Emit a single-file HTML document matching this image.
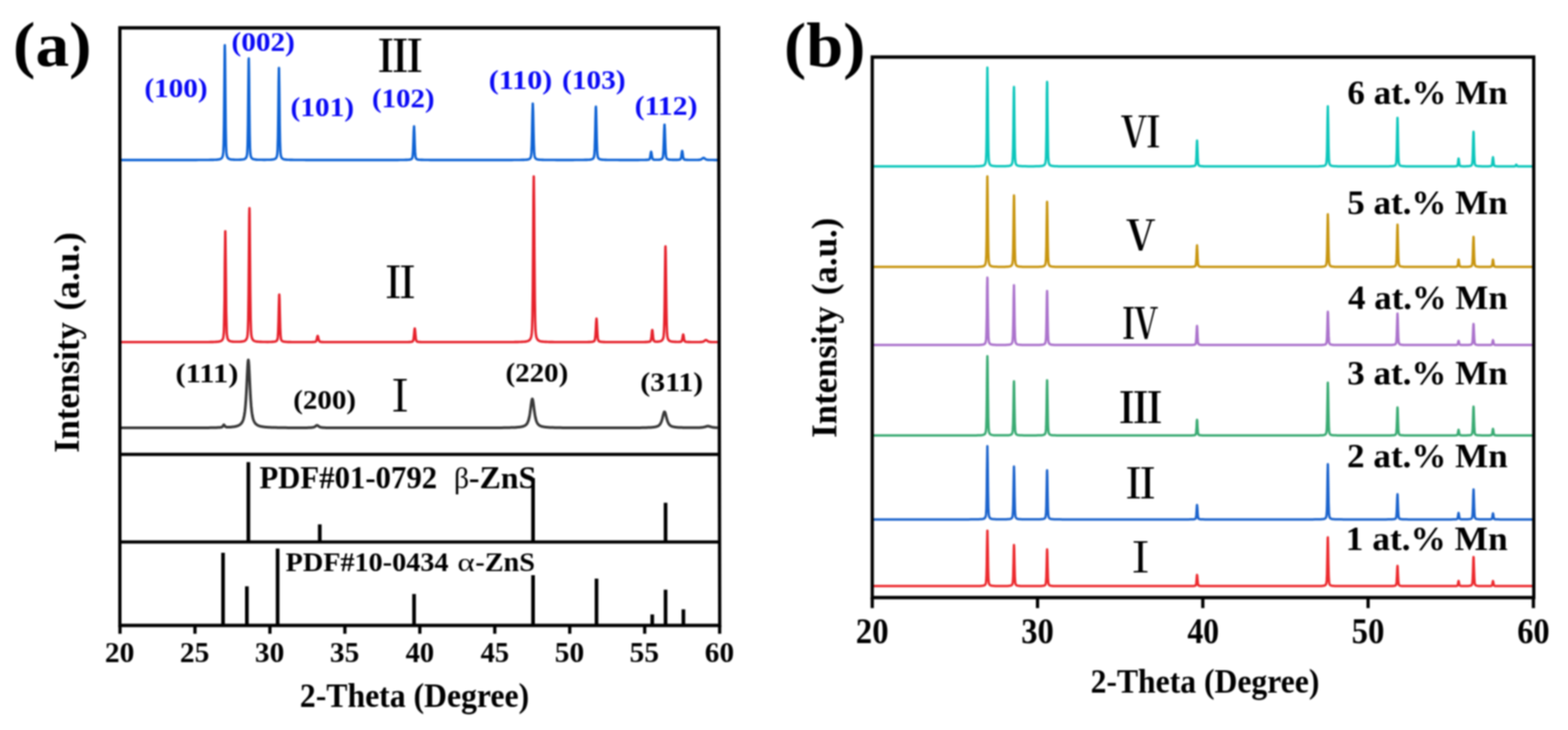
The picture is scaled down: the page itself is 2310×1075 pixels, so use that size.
<!DOCTYPE html>
<html><head><meta charset="utf-8"><title>XRD patterns</title>
<style>
html,body{margin:0;padding:0;background:#fff;}
body{width:2310px;height:1075px;overflow:hidden;}
svg{display:block;filter:blur(1px);}
</style></head>
<body>
<svg width="2310" height="1075" viewBox="0 0 2310 1075">
<rect x="0" y="0" width="2310" height="1075" fill="#fff"/>
<polyline fill="none" stroke="#0f63d4" stroke-width="3.6" stroke-linejoin="round" points="178.0,235.6 181.0,235.6 184.0,235.6 187.0,235.6 190.0,235.6 193.0,235.6 196.0,235.6 199.0,235.6 202.0,235.6 205.0,235.6 208.0,235.6 211.0,235.6 214.0,235.6 217.0,235.6 220.0,235.6 223.0,235.6 226.0,235.6 229.0,235.6 232.0,235.6 235.0,235.6 238.0,235.6 241.0,235.6 244.0,235.6 247.0,235.6 250.0,235.6 253.0,235.6 256.0,235.6 259.0,235.6 262.0,235.6 265.0,235.6 268.0,235.6 271.0,235.6 274.0,235.6 277.0,235.6 280.0,235.6 283.0,235.6 286.0,235.6 289.0,235.6 292.0,235.5 295.0,235.5 298.0,235.5 301.0,235.5 304.0,235.5 307.0,235.5 310.0,235.4 310.5,235.4 311.5,235.4 312.5,235.4 313.0,235.4 313.5,235.4 314.5,235.4 315.5,235.3 316.0,235.3 316.5,235.3 317.5,235.2 318.5,235.2 319.0,235.2 319.5,235.1 320.5,235.0 321.5,234.9 322.0,234.8 322.5,234.8 323.5,234.5 324.5,234.2 325.0,234.0 325.5,233.7 326.5,232.9 327.0,232.2 327.5,231.4 328.0,230.0 328.0,230.0 328.5,227.9 329.0,223.4 329.5,211.8 330.0,182.7 330.5,129.5 331.0,74.6 331.0,73.3 331.2,66.6 331.5,79.3 332.0,136.9 332.5,187.5 333.0,213.9 333.5,224.2 334.0,228.2 334.0,228.3 334.5,230.2 335.0,231.5 335.5,232.3 336.0,232.9 336.5,233.4 337.0,233.7 337.0,233.7 338.0,234.2 339.0,234.5 340.0,234.7 340.0,234.7 341.0,234.9 342.0,235.0 343.0,235.0 343.0,235.0 344.0,235.1 345.0,235.1 346.0,235.2 346.0,235.2 347.0,235.2 347.3,235.2 348.0,235.2 348.3,235.2 349.0,235.2 349.0,235.2 349.3,235.2 350.0,235.2 350.3,235.2 351.0,235.2 351.3,235.2 352.0,235.2 352.3,235.2 353.3,235.1 354.3,235.1 355.0,235.1 355.3,235.0 356.3,235.0 357.3,234.8 358.0,234.7 358.3,234.7 359.3,234.5 360.3,234.1 361.0,233.8 361.3,233.5 361.8,233.1 362.3,232.5 362.8,231.7 363.3,230.5 363.8,228.4 364.0,227.4 364.3,224.1 364.8,212.5 365.3,184.3 365.8,135.1 366.3,89.9 366.5,86.0 366.8,102.2 367.0,117.7 367.3,154.6 367.8,196.9 368.3,218.0 368.8,226.1 369.3,229.3 369.8,231.0 370.0,231.4 370.3,232.0 370.8,232.8 371.3,233.3 371.8,233.7 372.3,234.0 373.0,234.3 373.3,234.4 374.3,234.6 375.3,234.8 376.0,234.9 376.3,235.0 377.3,235.1 378.3,235.1 379.0,235.2 379.3,235.2 380.3,235.2 381.3,235.3 382.0,235.3 382.3,235.3 383.3,235.3 384.3,235.3 385.0,235.3 385.3,235.3 388.0,235.4 391.0,235.4 392.5,235.3 393.5,235.3 394.0,235.3 394.5,235.3 395.5,235.3 396.5,235.3 397.0,235.2 397.5,235.2 398.5,235.2 399.5,235.1 400.0,235.1 400.5,235.0 401.5,234.9 402.5,234.8 403.0,234.7 403.5,234.6 404.5,234.3 405.5,233.7 406.0,233.4 406.0,233.3 406.5,232.9 407.0,232.2 407.5,231.2 408.0,229.7 408.5,226.8 409.0,219.6 409.0,218.7 409.5,201.9 410.0,167.0 410.5,121.1 410.9,100.1 411.0,100.5 411.5,131.8 412.0,177.0 412.0,180.1 412.5,207.6 413.0,222.0 413.5,227.7 414.0,230.1 414.5,231.5 415.0,232.4 415.0,232.5 415.5,233.0 416.0,233.5 416.5,233.8 417.0,234.1 418.0,234.5 418.0,234.5 419.0,234.7 420.0,234.9 421.0,235.0 421.0,235.0 422.0,235.1 423.0,235.2 424.0,235.3 424.0,235.3 425.0,235.3 426.0,235.3 427.0,235.4 427.0,235.4 428.0,235.4 429.0,235.4 430.0,235.4 433.0,235.5 436.0,235.5 439.0,235.5 442.0,235.5 445.0,235.5 448.0,235.5 451.0,235.6 454.0,235.6 457.0,235.6 460.0,235.6 463.0,235.6 466.0,235.6 469.0,235.6 472.0,235.6 475.0,235.6 478.0,235.6 481.0,235.6 484.0,235.6 487.0,235.6 490.0,235.6 493.0,235.6 496.0,235.6 499.0,235.6 502.0,235.6 505.0,235.6 508.0,235.6 511.0,235.6 514.0,235.6 517.0,235.6 520.0,235.6 523.0,235.6 526.0,235.6 529.0,235.6 532.0,235.6 535.0,235.6 538.0,235.6 541.0,235.6 544.0,235.6 547.0,235.6 550.0,235.6 553.0,235.6 556.0,235.6 559.0,235.6 562.0,235.6 565.0,235.6 568.0,235.6 571.0,235.6 574.0,235.6 577.0,235.6 580.0,235.6 583.0,235.6 586.0,235.6 589.0,235.5 592.0,235.5 595.0,235.5 598.0,235.4 598.0,235.4 599.0,235.4 600.0,235.4 601.0,235.3 601.0,235.3 602.0,235.2 603.0,235.1 604.0,235.0 604.0,235.0 604.5,234.9 605.0,234.7 605.5,234.5 606.0,234.3 606.5,233.9 607.0,233.3 607.0,233.3 607.5,232.0 608.0,229.1 608.5,222.3 609.0,209.6 609.5,193.7 610.0,186.1 610.0,186.2 610.5,196.1 611.0,212.0 611.5,223.7 612.0,229.8 612.5,232.3 613.0,233.3 613.0,233.4 613.5,233.9 614.0,234.3 614.5,234.6 615.0,234.8 615.5,234.9 616.0,235.0 616.0,235.0 617.0,235.2 618.0,235.3 619.0,235.3 619.0,235.3 620.0,235.4 621.0,235.4 622.0,235.4 625.0,235.5 628.0,235.5 631.0,235.5 634.0,235.6 637.0,235.6 640.0,235.6 643.0,235.6 646.0,235.6 649.0,235.6 652.0,235.6 655.0,235.6 658.0,235.6 661.0,235.6 664.0,235.6 667.0,235.6 670.0,235.6 673.0,235.6 676.0,235.6 679.0,235.6 682.0,235.6 685.0,235.6 688.0,235.6 691.0,235.6 694.0,235.6 697.0,235.6 700.0,235.6 703.0,235.6 706.0,235.6 709.0,235.6 712.0,235.6 715.0,235.6 718.0,235.6 721.0,235.6 724.0,235.6 727.0,235.6 730.0,235.6 733.0,235.6 736.0,235.6 739.0,235.6 742.0,235.6 745.0,235.6 748.0,235.6 751.0,235.6 754.0,235.6 757.0,235.5 760.0,235.5 763.0,235.5 766.0,235.5 769.0,235.4 769.9,235.4 770.9,235.4 771.9,235.4 772.0,235.3 772.9,235.3 773.9,235.3 774.9,235.2 775.0,235.2 775.9,235.1 776.9,235.0 777.9,234.8 778.0,234.7 778.9,234.5 779.4,234.3 779.9,234.0 780.4,233.7 780.9,233.2 781.0,233.1 781.4,232.6 781.9,231.5 782.4,229.4 782.9,224.4 783.4,213.5 783.9,193.6 784.0,186.6 784.4,168.1 784.9,152.7 784.9,152.6 785.4,164.3 785.9,189.7 786.4,210.9 786.9,223.2 787.0,225.3 787.4,228.8 787.9,231.2 788.4,232.4 788.9,233.1 789.4,233.6 789.9,234.0 790.0,234.1 790.4,234.3 790.9,234.5 791.4,234.6 792.4,234.9 793.0,235.0 793.4,235.0 794.4,235.1 795.4,235.2 796.0,235.3 796.4,235.3 797.4,235.3 798.4,235.4 799.0,235.4 799.4,235.4 802.0,235.5 805.0,235.5 808.0,235.5 811.0,235.5 814.0,235.5 817.0,235.5 820.0,235.6 823.0,235.6 826.0,235.6 829.0,235.6 832.0,235.6 835.0,235.6 838.0,235.6 841.0,235.6 844.0,235.6 847.0,235.5 850.0,235.5 853.0,235.5 856.0,235.5 859.0,235.5 862.0,235.4 863.2,235.4 864.2,235.4 865.0,235.4 865.2,235.3 866.2,235.3 867.2,235.3 868.0,235.2 868.2,235.2 869.2,235.1 870.2,234.9 871.0,234.8 871.2,234.7 872.2,234.4 872.7,234.2 873.2,233.9 873.7,233.5 874.0,233.2 874.2,232.9 874.7,232.0 875.2,230.4 875.7,226.8 876.2,218.4 876.7,202.0 877.0,189.3 877.2,178.4 877.7,159.0 877.9,157.1 878.2,162.8 878.7,185.4 879.2,207.5 879.7,221.4 880.0,225.8 880.2,228.1 880.7,231.0 881.2,232.3 881.7,233.1 882.2,233.6 882.7,234.0 883.0,234.2 883.2,234.3 883.7,234.5 884.2,234.6 885.2,234.9 886.0,235.0 886.2,235.0 887.2,235.1 888.2,235.2 889.0,235.3 889.2,235.3 890.2,235.3 891.2,235.4 892.0,235.4 892.2,235.4 895.0,235.5 898.0,235.5 901.0,235.5 904.0,235.5 907.0,235.5 910.0,235.5 913.0,235.6 916.0,235.6 919.0,235.6 922.0,235.6 925.0,235.6 928.0,235.6 931.0,235.6 934.0,235.6 937.0,235.6 940.0,235.6 943.0,235.5 946.0,235.5 949.0,235.5 949.5,235.5 950.5,235.5 951.5,235.4 952.0,235.4 952.5,235.4 953.5,235.4 954.0,235.3 954.5,235.3 955.0,235.2 955.0,235.2 955.5,235.1 956.0,235.0 956.5,234.7 957.0,234.1 957.5,232.9 958.0,230.8 958.0,230.5 958.5,227.1 959.0,224.1 959.3,223.5 959.5,224.0 960.0,227.0 960.5,230.4 961.0,232.7 961.0,232.8 961.5,234.1 962.0,234.7 962.5,234.9 963.0,235.1 963.5,235.1 964.0,235.2 964.0,235.2 964.5,235.2 965.0,235.3 965.5,235.3 966.0,235.3 966.4,235.3 967.0,235.3 967.0,235.3 967.4,235.3 968.0,235.3 968.4,235.3 969.0,235.3 969.4,235.2 970.0,235.2 970.4,235.2 971.4,235.1 972.4,235.0 973.0,234.9 973.4,234.7 973.9,234.6 974.4,234.4 974.9,234.1 975.4,233.7 975.9,233.0 976.0,232.9 976.4,231.7 976.9,228.8 977.4,222.1 977.9,209.9 978.4,193.9 978.9,183.7 979.0,183.6 979.4,190.4 979.9,206.2 980.4,219.7 980.9,227.6 981.4,231.2 981.9,232.8 982.0,232.9 982.4,233.6 982.9,234.0 983.4,234.3 983.9,234.6 984.4,234.7 984.9,234.9 985.0,234.9 985.4,235.0 986.4,235.1 987.4,235.2 988.0,235.2 988.4,235.3 989.4,235.3 990.4,235.4 991.0,235.4 991.4,235.4 994.0,235.4 995.1,235.4 996.1,235.4 997.0,235.4 997.1,235.4 998.1,235.4 999.1,235.3 999.6,235.3 1000.0,235.3 1000.1,235.2 1000.6,235.2 1001.1,235.1 1001.6,234.9 1002.1,234.7 1002.6,234.2 1003.0,233.4 1003.1,233.0 1003.6,230.6 1004.1,227.1 1004.6,223.4 1005.0,222.3 1005.1,222.4 1005.6,225.3 1006.0,228.2 1006.1,229.2 1006.6,232.1 1007.1,233.8 1007.6,234.5 1008.1,234.9 1008.6,235.0 1009.0,235.1 1009.1,235.2 1009.6,235.2 1010.1,235.3 1010.6,235.3 1011.1,235.4 1011.6,235.4 1012.0,235.4 1012.6,235.4 1013.6,235.5 1014.6,235.5 1015.0,235.5 1016.1,235.5 1017.1,235.5 1018.0,235.5 1018.1,235.5 1019.1,235.5 1020.1,235.5 1021.0,235.5 1021.1,235.5 1022.1,235.5 1022.6,235.5 1023.1,235.5 1023.6,235.5 1024.0,235.5 1024.2,235.5 1024.7,235.5 1025.2,235.5 1025.7,235.5 1026.2,235.5 1026.7,235.5 1027.0,235.5 1027.2,235.5 1027.7,235.5 1028.2,235.5 1028.7,235.4 1029.2,235.4 1029.7,235.4 1030.0,235.4 1030.2,235.4 1030.7,235.3 1031.2,235.2 1031.7,235.1 1032.2,235.0 1032.7,234.8 1033.0,234.6 1033.2,234.5 1033.7,234.2 1034.2,233.8 1034.7,233.4 1035.2,233.0 1035.7,232.7 1036.0,232.5 1036.2,232.5 1036.4,232.5 1036.7,232.5 1037.2,232.7 1037.7,233.0 1038.2,233.4 1038.7,233.8 1039.0,234.1 1039.2,234.2 1039.7,234.5 1040.2,234.8 1040.7,235.0 1041.2,235.1 1041.7,235.2 1042.0,235.3 1042.2,235.3 1042.7,235.4 1043.2,235.4 1043.7,235.4 1044.2,235.5 1044.7,235.5 1045.0,235.5 1045.2,235.5 1045.7,235.5 1046.2,235.5 1046.7,235.5 1047.2,235.5 1047.7,235.5 1048.0,235.5 1048.2,235.5 1048.7,235.5 1049.2,235.5 1049.7,235.5 1050.2,235.5 1050.7,235.5 1051.0,235.5 1051.2,235.5 1051.7,235.6 1052.7,235.6 1053.7,235.6 1054.0,235.6 1054.7,235.6 1055.7,235.6 1057.0,235.6 1057.5,235.6"/>
<polyline fill="none" stroke="#e6222c" stroke-width="3.6" stroke-linejoin="round" points="178.0,503.8 181.0,503.8 184.0,503.8 187.0,503.8 190.0,503.8 193.0,503.8 196.0,503.8 199.0,503.8 202.0,503.8 205.0,503.8 208.0,503.8 211.0,503.8 214.0,503.8 217.0,503.8 220.0,503.8 223.0,503.8 226.0,503.8 229.0,503.8 232.0,503.8 235.0,503.8 238.0,503.8 241.0,503.8 244.0,503.8 247.0,503.8 250.0,503.8 253.0,503.8 256.0,503.8 259.0,503.8 262.0,503.8 265.0,503.8 268.0,503.8 271.0,503.8 274.0,503.8 277.0,503.8 280.0,503.8 283.0,503.8 286.0,503.8 289.0,503.7 292.0,503.7 295.0,503.7 298.0,503.7 301.0,503.7 304.0,503.7 307.0,503.7 310.0,503.6 311.2,503.6 312.2,503.6 313.0,503.6 313.2,503.6 314.2,503.6 315.2,503.5 316.0,503.5 316.2,503.5 317.2,503.5 318.2,503.4 319.0,503.4 319.2,503.3 320.2,503.3 321.2,503.2 322.0,503.1 322.2,503.0 323.2,502.9 324.2,502.6 325.0,502.4 325.2,502.3 326.2,501.7 326.8,501.3 327.2,500.8 327.8,500.1 328.0,499.6 328.2,499.1 328.8,497.6 329.2,495.0 329.8,489.2 330.2,474.4 330.8,441.5 331.0,416.9 331.2,388.9 331.8,344.0 331.9,340.6 332.2,357.5 332.8,411.5 333.2,457.3 333.8,481.9 334.0,488.2 334.2,492.1 334.8,496.2 335.2,498.2 335.8,499.5 336.2,500.4 336.8,501.0 337.0,501.2 337.2,501.5 337.8,501.8 338.8,502.3 339.8,502.6 340.0,502.7 340.8,502.8 341.8,503.0 342.8,503.1 343.0,503.1 343.7,503.2 343.8,503.2 344.7,503.2 344.8,503.2 345.7,503.3 345.8,503.3 346.0,503.3 346.7,503.3 346.8,503.3 347.7,503.3 347.8,503.3 348.7,503.3 348.8,503.3 349.0,503.3 349.7,503.3 349.8,503.3 350.7,503.3 350.8,503.3 351.7,503.3 351.8,503.3 352.0,503.3 352.7,503.2 353.7,503.2 354.7,503.1 355.0,503.1 355.7,503.0 356.7,502.9 357.7,502.8 358.0,502.7 358.7,502.6 359.7,502.3 360.7,501.8 361.0,501.7 361.7,501.1 362.2,500.6 362.7,500.0 363.2,499.1 363.7,497.9 364.0,497.0 364.2,496.1 364.7,493.0 365.2,486.3 365.7,469.9 366.2,434.3 366.7,376.2 367.0,341.6 367.2,318.0 367.5,306.6 367.7,315.0 368.2,371.0 368.7,430.5 369.2,467.9 369.7,485.4 370.0,490.1 370.2,492.6 370.7,495.9 371.2,497.8 371.7,499.0 372.2,499.9 372.7,500.6 373.0,500.9 373.2,501.1 373.7,501.5 374.7,502.1 375.7,502.4 376.0,502.5 376.7,502.7 377.7,502.9 378.7,503.0 379.0,503.1 379.7,503.1 380.7,503.2 381.7,503.3 382.0,503.3 382.7,503.4 383.7,503.4 384.7,503.4 385.0,503.4 385.7,503.5 386.7,503.5 387.7,503.5 388.0,503.5 388.7,503.5 389.7,503.5 390.7,503.5 391.0,503.5 394.0,503.6 397.0,503.5 397.8,503.5 398.8,503.5 399.8,503.5 400.0,503.5 400.8,503.4 401.8,503.4 402.8,503.3 403.0,503.3 403.8,503.2 404.8,503.0 405.8,502.8 406.0,502.7 406.3,502.6 406.8,502.3 407.3,502.0 407.8,501.5 408.3,500.7 408.8,499.4 409.0,498.4 409.3,496.2 409.8,488.6 410.3,473.2 410.8,451.0 411.3,434.4 411.4,433.7 411.8,441.7 412.0,450.5 412.3,463.9 412.8,482.9 413.3,493.6 413.8,498.3 414.3,500.3 414.8,501.2 415.0,501.5 415.3,501.8 415.8,502.2 416.3,502.5 416.8,502.7 417.3,502.9 417.8,503.0 418.0,503.0 418.8,503.2 419.8,503.3 420.8,503.4 421.0,503.4 421.8,503.5 422.8,503.5 423.8,503.6 424.0,503.6 424.8,503.6 427.0,503.6 430.0,503.7 433.0,503.7 436.0,503.7 439.0,503.7 442.0,503.7 445.0,503.7 448.0,503.7 451.0,503.7 454.0,503.7 456.9,503.7 457.0,503.7 457.9,503.7 458.9,503.7 459.9,503.7 460.0,503.7 460.9,503.6 461.4,503.6 461.9,503.6 462.4,503.6 462.9,503.5 463.0,503.5 463.4,503.5 463.9,503.4 464.4,503.3 464.9,503.1 465.4,502.7 465.9,501.9 466.0,501.6 466.4,500.5 466.9,498.5 467.4,496.2 467.9,494.8 468.0,494.7 468.4,495.3 468.9,497.3 469.0,497.9 469.4,499.5 469.9,501.3 470.4,502.3 470.9,502.9 471.4,503.2 471.9,503.4 472.0,503.4 472.4,503.4 472.9,503.5 473.4,503.6 473.9,503.6 474.4,503.6 474.9,503.6 475.0,503.6 475.4,503.7 475.9,503.7 476.9,503.7 477.9,503.7 478.0,503.7 478.9,503.7 481.0,503.7 484.0,503.8 487.0,503.8 490.0,503.8 493.0,503.8 496.0,503.8 499.0,503.8 502.0,503.8 505.0,503.8 508.0,503.8 511.0,503.8 514.0,503.8 517.0,503.8 520.0,503.8 523.0,503.8 526.0,503.8 529.0,503.8 532.0,503.8 535.0,503.8 538.0,503.8 541.0,503.8 544.0,503.8 547.0,503.8 550.0,503.8 553.0,503.8 556.0,503.8 559.0,503.8 562.0,503.8 565.0,503.8 568.0,503.8 571.0,503.8 574.0,503.8 577.0,503.8 580.0,503.8 583.0,503.8 586.0,503.8 589.0,503.8 592.0,503.8 595.0,503.7 598.0,503.7 600.6,503.7 601.0,503.7 601.6,503.7 602.6,503.6 603.6,503.6 604.0,503.6 604.6,503.5 605.1,503.5 605.6,503.4 606.1,503.4 606.6,503.3 607.0,503.2 607.1,503.1 607.6,502.9 608.1,502.6 608.6,501.8 609.1,500.2 609.6,496.8 610.0,492.6 610.1,491.6 610.6,485.8 611.0,483.7 611.1,483.8 611.6,487.7 612.1,493.6 612.6,498.3 613.0,500.6 613.1,500.9 613.6,502.2 614.1,502.7 614.6,503.0 615.1,503.2 615.6,503.3 616.0,503.4 616.1,503.4 616.6,503.5 617.1,503.5 617.6,503.5 618.1,503.6 619.0,503.6 619.1,503.6 620.1,503.7 621.1,503.7 622.0,503.7 625.0,503.7 628.0,503.8 631.0,503.8 634.0,503.8 637.0,503.8 640.0,503.8 643.0,503.8 646.0,503.8 649.0,503.8 652.0,503.8 655.0,503.8 658.0,503.8 661.0,503.8 664.0,503.8 667.0,503.8 670.0,503.8 673.0,503.8 676.0,503.8 679.0,503.8 682.0,503.8 685.0,503.8 688.0,503.8 691.0,503.8 694.0,503.8 697.0,503.8 700.0,503.8 703.0,503.8 706.0,503.8 709.0,503.8 712.0,503.8 715.0,503.8 718.0,503.8 721.0,503.8 724.0,503.8 727.0,503.8 730.0,503.8 733.0,503.8 736.0,503.7 739.0,503.7 742.0,503.7 745.0,503.7 748.0,503.7 751.0,503.7 754.0,503.7 757.0,503.7 758.4,503.6 759.4,503.6 760.0,503.6 760.4,503.6 761.4,503.6 762.4,503.6 763.0,503.6 763.4,503.6 764.4,503.5 765.4,503.5 766.0,503.5 766.4,503.5 767.4,503.5 768.4,503.4 769.0,503.4 769.4,503.4 770.4,503.3 771.4,503.3 772.0,503.2 772.4,503.2 773.4,503.1 774.4,503.0 775.0,502.9 775.4,502.8 776.4,502.6 777.4,502.3 778.0,502.1 778.4,501.9 779.4,501.3 780.4,500.5 780.9,499.8 781.0,499.6 781.4,499.0 781.9,498.0 782.4,496.5 782.9,494.3 783.4,490.7 783.9,483.2 784.0,480.0 784.4,465.8 784.9,428.2 785.4,364.3 785.9,290.2 786.3,259.7 786.4,260.6 786.9,309.5 787.0,329.1 787.4,384.6 787.9,441.3 788.4,472.2 788.9,486.0 789.4,491.9 789.9,495.0 790.0,495.6 790.4,496.9 790.9,498.3 791.4,499.3 791.9,500.0 792.4,500.6 792.9,501.1 793.0,501.2 793.9,501.7 794.9,502.2 795.9,502.5 796.0,502.5 796.9,502.7 797.9,502.9 798.9,503.0 799.0,503.0 799.9,503.1 800.9,503.2 801.9,503.3 802.0,503.3 802.9,503.4 803.9,503.4 804.9,503.4 805.0,503.4 805.9,503.5 806.9,503.5 807.9,503.5 808.0,503.5 808.9,503.6 809.9,503.6 810.9,503.6 811.0,503.6 811.9,503.6 812.9,503.6 813.9,503.6 814.0,503.6 817.0,503.7 820.0,503.7 823.0,503.7 826.0,503.7 829.0,503.7 832.0,503.7 835.0,503.7 838.0,503.7 841.0,503.7 844.0,503.7 847.0,503.7 850.0,503.7 853.0,503.7 856.0,503.7 859.0,503.7 862.0,503.7 865.0,503.7 867.2,503.6 868.0,503.6 868.2,503.6 869.2,503.6 870.2,503.5 871.0,503.5 871.2,503.5 872.2,503.4 872.7,503.3 873.2,503.2 873.7,503.1 874.0,503.0 874.2,502.9 874.7,502.7 875.2,502.4 875.7,501.9 876.2,500.9 876.7,498.7 877.0,496.6 877.2,494.0 877.7,485.9 878.2,475.7 878.7,469.3 878.8,469.2 879.2,473.2 879.7,483.1 880.0,488.3 880.2,492.1 880.7,497.7 881.2,500.5 881.7,501.7 882.2,502.3 882.7,502.6 883.0,502.8 883.2,502.9 883.7,503.0 884.2,503.2 884.7,503.3 885.2,503.3 885.7,503.4 886.0,503.4 886.7,503.5 887.7,503.5 888.7,503.6 889.0,503.6 889.7,503.6 892.0,503.7 895.0,503.7 898.0,503.7 901.0,503.7 904.0,503.7 907.0,503.7 910.0,503.8 913.0,503.8 916.0,503.8 919.0,503.8 922.0,503.8 925.0,503.8 928.0,503.7 931.0,503.7 934.0,503.7 937.0,503.7 940.0,503.7 943.0,503.7 946.0,503.7 949.0,503.7 950.7,503.6 951.7,503.6 952.0,503.6 952.7,503.6 953.7,503.5 954.7,503.4 955.0,503.4 955.2,503.4 955.7,503.3 956.2,503.3 956.7,503.2 957.2,503.0 957.7,502.8 958.0,502.6 958.2,502.4 958.7,501.5 959.2,499.5 959.7,495.9 960.2,490.8 960.7,486.5 960.7,486.5 960.9,486.0 961.0,486.1 961.2,487.0 961.7,491.6 961.7,491.8 962.2,496.5 962.7,499.9 962.7,500.0 963.2,501.6 963.7,502.4 963.7,502.4 964.0,502.6 964.2,502.7 964.7,502.9 964.7,502.9 965.2,503.0 965.7,503.1 965.7,503.1 966.2,503.1 966.7,503.1 966.7,503.1 967.0,503.2 967.2,503.2 967.7,503.2 967.7,503.2 968.7,503.1 968.7,503.1 969.7,503.1 969.7,503.1 970.0,503.0 970.7,503.0 970.7,503.0 971.7,502.8 972.7,502.6 973.0,502.5 973.7,502.2 974.7,501.6 975.2,501.2 975.7,500.7 976.0,500.3 976.2,500.0 976.7,499.0 977.2,497.4 977.7,494.5 978.2,488.1 978.7,473.2 979.0,458.3 979.2,444.1 979.7,401.9 980.2,366.4 980.4,362.7 980.7,372.3 981.2,412.6 981.7,452.5 982.0,469.1 982.2,477.9 982.7,490.2 983.2,495.4 983.7,497.9 984.2,499.3 984.7,500.2 985.0,500.6 985.2,500.9 985.7,501.4 986.2,501.8 986.7,502.1 987.7,502.5 988.0,502.6 988.7,502.8 989.7,503.0 990.7,503.1 991.0,503.1 991.7,503.2 992.7,503.3 993.7,503.4 994.0,503.4 994.7,503.4 995.7,503.4 996.7,503.5 996.8,503.5 997.0,503.5 997.7,503.5 997.8,503.5 998.7,503.5 998.8,503.5 999.7,503.5 999.8,503.5 1000.0,503.5 1000.8,503.4 1001.3,503.4 1001.8,503.4 1002.3,503.3 1002.8,503.2 1003.0,503.2 1003.3,503.1 1003.8,502.8 1004.3,502.3 1004.8,501.0 1005.3,498.7 1005.8,495.5 1006.0,494.3 1006.3,492.9 1006.5,492.6 1006.8,493.3 1007.3,496.3 1007.8,499.3 1008.3,501.4 1008.8,502.5 1009.0,502.7 1009.3,503.0 1009.8,503.2 1010.3,503.3 1010.8,503.4 1011.3,503.5 1011.8,503.5 1012.0,503.5 1012.3,503.5 1012.8,503.6 1013.3,503.6 1014.3,503.6 1015.0,503.6 1015.3,503.6 1018.0,503.7 1019.8,503.7 1020.8,503.7 1021.0,503.7 1021.8,503.7 1022.8,503.7 1023.8,503.7 1024.0,503.7 1024.8,503.7 1025.8,503.7 1026.2,503.7 1026.8,503.7 1027.0,503.7 1027.2,503.7 1027.8,503.7 1028.2,503.7 1028.8,503.7 1029.2,503.7 1029.8,503.7 1030.0,503.7 1030.2,503.7 1030.8,503.7 1031.2,503.7 1031.8,503.6 1032.2,503.6 1032.8,503.6 1033.0,503.6 1033.2,503.6 1033.8,503.5 1034.2,503.5 1034.8,503.4 1035.2,503.3 1035.8,503.2 1036.0,503.1 1036.2,503.0 1036.8,502.7 1037.2,502.4 1037.8,502.0 1038.2,501.6 1038.8,501.2 1039.0,501.1 1039.2,500.9 1039.8,500.7 1040.0,500.7 1040.2,500.7 1040.8,500.9 1041.2,501.2 1041.8,501.6 1042.0,501.8 1042.2,502.0 1042.8,502.4 1043.2,502.7 1043.8,503.0 1044.2,503.2 1044.8,503.3 1045.0,503.4 1045.2,503.4 1045.8,503.5 1046.2,503.6 1046.8,503.6 1047.2,503.6 1047.8,503.6 1048.0,503.7 1048.2,503.7 1048.8,503.7 1049.2,503.7 1049.8,503.7 1050.2,503.7 1050.8,503.7 1051.0,503.7 1051.2,503.7 1051.8,503.7 1052.2,503.7 1052.8,503.7 1053.2,503.7 1053.8,503.7 1054.0,503.7 1054.2,503.7 1054.8,503.7 1055.2,503.7 1056.2,503.7 1057.0,503.8 1057.2,503.8 1057.5,503.8"/>
<polyline fill="none" stroke="#383838" stroke-width="4.0" stroke-linejoin="round" points="178.0,630.1 181.0,630.1 184.0,630.1 187.0,630.1 190.0,630.1 193.0,630.1 196.0,630.1 199.0,630.1 202.0,630.1 205.0,630.1 208.0,630.1 211.0,630.1 214.0,630.1 217.0,630.1 220.0,630.1 223.0,630.1 226.0,630.1 229.0,630.1 232.0,630.1 235.0,630.1 238.0,630.0 241.0,630.0 244.0,630.0 247.0,630.0 250.0,630.0 253.0,630.0 256.0,630.0 259.0,630.0 262.0,630.0 265.0,630.0 268.0,630.0 271.0,630.0 274.0,630.0 277.0,630.0 280.0,630.0 283.0,630.0 286.0,630.0 289.0,630.0 292.0,630.0 295.0,629.9 298.0,629.9 301.0,629.9 304.0,629.9 307.0,629.9 310.0,629.8 313.0,629.8 316.0,629.7 317.5,629.7 318.5,629.7 319.0,629.7 319.5,629.7 320.5,629.6 321.5,629.6 322.0,629.6 322.0,629.6 322.5,629.6 323.0,629.5 323.5,629.5 324.0,629.4 324.5,629.4 325.0,629.3 325.0,629.3 325.5,629.3 326.0,629.2 326.5,629.0 327.0,628.8 327.5,628.5 328.0,628.0 328.0,627.9 328.5,627.3 329.0,626.4 329.5,625.7 329.8,625.5 330.0,625.6 330.5,626.1 331.0,627.0 331.0,627.0 331.5,627.7 332.0,628.2 332.5,628.5 333.0,628.7 333.5,628.9 333.8,628.9 334.0,629.0 334.0,629.0 334.5,629.0 334.8,629.0 335.0,629.0 335.5,629.0 335.8,629.1 336.0,629.1 336.5,629.0 336.8,629.0 337.0,629.0 337.0,629.0 337.5,629.0 337.8,629.0 338.0,629.0 338.5,629.0 338.8,629.0 339.0,629.0 339.8,628.9 340.0,628.9 340.0,628.9 340.8,628.8 341.0,628.8 341.8,628.7 342.0,628.7 342.8,628.6 343.0,628.6 343.8,628.5 344.8,628.4 345.8,628.2 346.0,628.2 346.8,628.0 347.8,627.8 348.8,627.5 349.0,627.4 349.3,627.4 349.8,627.2 350.3,627.0 350.8,626.8 351.3,626.6 351.8,626.3 352.0,626.2 352.3,626.1 352.8,625.8 353.3,625.5 353.8,625.1 354.3,624.7 354.8,624.2 355.0,624.0 355.3,623.7 355.8,623.1 356.3,622.4 356.8,621.6 357.3,620.6 357.8,619.5 358.0,619.0 358.3,618.2 358.8,616.6 359.3,614.6 359.8,612.2 360.3,609.2 360.8,605.5 361.0,603.6 361.3,600.9 361.8,595.3 362.3,588.5 362.8,580.3 363.3,570.9 363.8,560.5 364.0,555.8 364.3,549.7 364.8,539.9 365.3,532.7 365.8,529.9 365.8,529.9 366.3,532.3 366.8,539.2 367.0,543.2 367.3,548.9 367.8,559.6 368.3,570.1 368.8,579.6 369.3,587.9 369.8,594.8 370.0,597.5 370.3,600.5 370.8,605.2 371.3,609.0 371.8,612.0 372.3,614.5 372.8,616.5 373.0,617.2 373.3,618.1 373.8,619.4 374.3,620.6 374.8,621.5 375.3,622.3 375.8,623.0 376.0,623.3 376.3,623.6 376.8,624.2 377.3,624.6 377.8,625.1 378.3,625.4 378.8,625.8 379.0,625.9 379.3,626.1 379.8,626.3 380.3,626.6 380.8,626.8 381.3,627.0 381.8,627.2 382.0,627.3 382.3,627.4 382.8,627.5 383.3,627.7 383.8,627.8 384.3,627.9 385.0,628.1 385.3,628.1 386.3,628.3 387.3,628.5 388.0,628.6 388.3,628.6 389.3,628.7 390.3,628.8 391.0,628.9 391.3,628.9 392.3,629.0 393.3,629.1 394.0,629.1 394.3,629.2 395.3,629.2 396.3,629.3 397.0,629.3 397.3,629.3 400.0,629.4 403.0,629.5 406.0,629.6 409.0,629.7 412.0,629.7 415.0,629.8 418.0,629.8 421.0,629.8 424.0,629.9 427.0,629.9 430.0,629.9 433.0,629.9 436.0,629.9 439.0,629.9 442.0,629.9 442.8,629.9 443.8,629.9 444.8,629.9 445.0,629.9 445.8,629.9 446.8,629.9 447.8,629.9 448.0,629.9 448.8,629.9 449.8,629.9 450.3,629.9 450.8,629.9 451.0,629.9 451.3,629.9 451.8,629.9 452.3,629.9 452.8,629.9 453.3,629.9 453.8,629.8 454.0,629.8 454.3,629.8 454.8,629.8 455.3,629.8 455.8,629.8 456.3,629.8 456.8,629.8 457.0,629.7 457.3,629.7 457.8,629.7 458.3,629.7 458.8,629.6 459.3,629.6 459.8,629.5 460.0,629.5 460.3,629.5 460.8,629.4 461.3,629.3 461.8,629.2 462.3,629.0 462.8,628.8 463.0,628.8 463.3,628.6 463.8,628.4 464.3,628.0 464.8,627.7 465.3,627.3 465.8,626.9 466.0,626.7 466.3,626.6 466.8,626.4 467.1,626.3 467.3,626.3 467.8,626.5 468.3,626.8 468.8,627.2 469.0,627.4 469.3,627.6 469.8,628.0 470.3,628.3 470.8,628.6 471.3,628.8 471.8,629.0 472.0,629.1 472.3,629.2 472.8,629.3 473.3,629.4 473.8,629.5 474.3,629.6 474.8,629.6 475.0,629.6 475.3,629.7 475.8,629.7 476.3,629.7 476.8,629.8 477.3,629.8 477.8,629.8 478.0,629.8 478.3,629.8 478.8,629.8 479.3,629.9 479.8,629.9 480.3,629.9 480.8,629.9 481.0,629.9 481.3,629.9 481.8,629.9 482.3,629.9 482.8,629.9 483.3,629.9 483.8,629.9 484.0,629.9 484.3,629.9 484.8,630.0 485.3,630.0 486.3,630.0 487.0,630.0 487.3,630.0 488.3,630.0 489.3,630.0 490.0,630.0 490.3,630.0 491.3,630.0 493.0,630.0 496.0,630.0 499.0,630.0 502.0,630.0 505.0,630.0 508.0,630.0 511.0,630.0 514.0,630.0 517.0,630.0 520.0,630.0 523.0,630.1 526.0,630.1 529.0,630.1 532.0,630.1 535.0,630.1 538.0,630.1 541.0,630.1 544.0,630.1 547.0,630.1 550.0,630.1 553.0,630.1 556.0,630.1 559.0,630.1 562.0,630.1 565.0,630.1 568.0,630.1 571.0,630.1 574.0,630.1 577.0,630.1 580.0,630.1 583.0,630.1 586.0,630.1 589.0,630.1 592.0,630.1 595.0,630.1 598.0,630.1 601.0,630.1 604.0,630.1 607.0,630.1 610.0,630.1 613.0,630.1 616.0,630.1 619.0,630.1 622.0,630.1 625.0,630.1 628.0,630.1 631.0,630.1 634.0,630.1 637.0,630.1 640.0,630.1 643.0,630.1 646.0,630.1 649.0,630.1 652.0,630.1 655.0,630.1 658.0,630.1 661.0,630.1 664.0,630.1 667.0,630.1 670.0,630.1 673.0,630.1 676.0,630.0 679.0,630.0 682.0,630.0 685.0,630.0 688.0,630.0 691.0,630.0 694.0,630.0 697.0,630.0 700.0,630.0 703.0,630.0 706.0,630.0 709.0,630.0 712.0,630.0 715.0,630.0 718.0,630.0 721.0,630.0 724.0,630.0 727.0,630.0 730.0,629.9 733.0,629.9 736.0,629.9 739.0,629.9 742.0,629.8 745.0,629.8 748.0,629.8 751.0,629.7 752.8,629.6 753.8,629.6 754.0,629.6 754.8,629.6 755.8,629.5 756.8,629.5 757.0,629.5 757.8,629.5 758.8,629.4 759.8,629.4 760.0,629.3 760.8,629.3 761.8,629.2 762.8,629.1 763.0,629.1 763.8,629.1 764.3,629.0 764.8,628.9 765.3,628.9 765.8,628.8 766.0,628.8 766.3,628.8 766.8,628.7 767.3,628.6 767.8,628.5 768.3,628.4 768.8,628.3 769.0,628.3 769.3,628.2 769.8,628.1 770.3,627.9 770.8,627.8 771.3,627.6 771.8,627.4 772.0,627.3 772.3,627.2 772.8,627.0 773.3,626.7 773.8,626.4 774.3,626.0 774.8,625.6 775.0,625.4 775.3,625.2 775.8,624.6 776.3,624.0 776.8,623.2 777.3,622.3 777.8,621.1 778.0,620.6 778.3,619.8 778.8,618.2 779.3,616.3 779.8,614.0 780.3,611.3 780.8,608.2 781.0,606.7 781.3,604.7 781.8,600.9 782.3,597.0 782.8,593.2 783.3,590.0 783.8,588.0 784.0,587.5 784.2,587.4 784.3,587.4 784.8,588.5 785.3,591.0 785.8,594.4 786.3,598.3 786.8,602.2 787.0,603.8 787.3,605.9 787.8,609.2 788.3,612.2 788.8,614.8 789.3,616.9 789.8,618.7 790.0,619.4 790.3,620.3 790.8,621.5 791.3,622.6 791.8,623.5 792.3,624.2 792.8,624.8 793.0,625.0 793.3,625.3 793.8,625.8 794.3,626.2 794.8,626.5 795.3,626.8 795.8,627.0 796.0,627.1 796.3,627.3 796.8,627.5 797.3,627.7 797.8,627.8 798.3,628.0 798.8,628.1 799.0,628.2 799.3,628.2 799.8,628.3 800.3,628.4 800.8,628.5 801.3,628.6 801.8,628.7 802.0,628.7 802.3,628.8 802.8,628.8 803.3,628.9 803.8,629.0 804.3,629.0 804.8,629.1 805.0,629.1 805.3,629.1 806.3,629.2 807.3,629.3 808.0,629.3 808.3,629.3 809.3,629.4 810.3,629.4 811.0,629.5 811.3,629.5 812.3,629.5 813.3,629.6 814.0,629.6 814.3,629.6 815.3,629.6 817.0,629.7 820.0,629.7 823.0,629.8 826.0,629.8 829.0,629.9 832.0,629.9 835.0,629.9 838.0,629.9 841.0,629.9 844.0,630.0 847.0,630.0 850.0,630.0 853.0,630.0 856.0,630.0 859.0,630.0 862.0,630.0 865.0,630.0 868.0,630.0 871.0,630.0 874.0,630.0 877.0,630.0 880.0,630.0 883.0,630.0 886.0,630.0 889.0,630.0 892.0,630.0 895.0,630.0 898.0,630.0 901.0,630.0 904.0,630.0 907.0,630.0 910.0,630.0 913.0,630.0 916.0,630.0 919.0,630.0 922.0,630.0 925.0,630.0 928.0,630.0 931.0,630.0 934.0,629.9 937.0,629.9 940.0,629.9 943.0,629.9 946.0,629.8 947.1,629.8 948.1,629.8 949.0,629.8 949.1,629.8 950.1,629.7 951.1,629.7 952.0,629.7 952.1,629.7 953.1,629.7 954.1,629.6 955.0,629.6 955.1,629.6 956.1,629.5 957.1,629.5 957.6,629.5 958.0,629.5 958.1,629.4 958.6,629.4 959.1,629.4 959.6,629.4 960.1,629.3 960.6,629.3 961.0,629.2 961.1,629.2 961.6,629.2 962.1,629.1 962.6,629.1 963.1,629.0 963.6,628.9 964.0,628.9 964.1,628.9 964.6,628.8 965.1,628.7 965.6,628.6 966.1,628.5 966.6,628.4 967.0,628.3 967.1,628.3 967.6,628.1 968.1,627.9 968.6,627.7 969.1,627.5 969.6,627.3 970.0,627.0 970.1,627.0 970.6,626.6 971.1,626.2 971.6,625.7 972.1,625.1 972.6,624.5 973.0,623.8 973.1,623.6 973.6,622.7 974.1,621.5 974.6,620.2 975.1,618.7 975.6,617.0 976.0,615.5 976.1,615.1 976.6,613.1 977.1,611.1 977.6,609.2 978.1,607.6 978.6,606.6 979.0,606.4 979.1,606.4 979.6,606.9 980.1,608.2 980.6,609.9 981.1,611.9 981.6,613.9 982.0,615.5 982.1,615.9 982.6,617.7 983.1,619.3 983.6,620.8 984.1,622.0 984.6,623.1 985.0,623.8 985.1,624.0 985.6,624.7 986.1,625.4 986.6,625.9 987.1,626.4 987.6,626.8 988.0,627.0 988.1,627.1 988.6,627.4 989.1,627.6 989.6,627.8 990.1,628.0 990.6,628.2 991.0,628.3 991.1,628.3 991.6,628.4 992.1,628.5 992.6,628.6 993.1,628.7 993.6,628.8 994.0,628.9 994.1,628.9 994.6,629.0 995.1,629.0 995.6,629.1 996.1,629.1 996.6,629.2 997.0,629.2 997.1,629.2 997.6,629.3 998.1,629.3 998.6,629.4 999.1,629.4 999.6,629.4 1000.0,629.4 1000.1,629.4 1000.6,629.5 1001.1,629.5 1001.6,629.5 1002.6,629.6 1002.8,629.6 1003.0,629.6 1003.6,629.6 1003.8,629.6 1004.6,629.6 1004.8,629.6 1005.6,629.7 1005.8,629.7 1006.0,629.7 1006.6,629.7 1006.8,629.7 1007.6,629.7 1007.8,629.7 1008.6,629.7 1008.8,629.7 1009.0,629.7 1009.6,629.7 1009.8,629.7 1010.6,629.8 1010.8,629.8 1011.8,629.8 1012.0,629.8 1012.8,629.8 1013.8,629.8 1014.3,629.8 1014.8,629.8 1015.0,629.8 1015.3,629.8 1015.8,629.8 1016.3,629.8 1016.8,629.8 1017.3,629.8 1017.8,629.8 1018.0,629.8 1018.3,629.8 1018.8,629.8 1019.3,629.8 1019.8,629.8 1020.3,629.8 1020.8,629.8 1021.0,629.8 1021.3,629.8 1021.8,629.8 1022.3,629.8 1022.8,629.8 1023.3,629.8 1023.8,629.8 1024.0,629.8 1024.3,629.8 1024.8,629.8 1025.3,629.8 1025.8,629.8 1026.3,629.8 1026.8,629.8 1027.0,629.8 1027.3,629.8 1027.8,629.8 1028.3,629.8 1028.8,629.7 1029.3,629.7 1029.8,629.7 1030.0,629.7 1030.3,629.7 1030.8,629.7 1031.3,629.7 1031.8,629.6 1032.3,629.6 1032.8,629.6 1033.0,629.5 1033.3,629.5 1033.8,629.5 1034.3,629.4 1034.8,629.4 1035.3,629.3 1035.8,629.2 1036.0,629.2 1036.3,629.1 1036.8,629.0 1037.3,628.9 1037.8,628.8 1038.3,628.7 1038.8,628.5 1039.0,628.5 1039.3,628.4 1039.8,628.2 1040.3,628.1 1040.8,627.9 1041.3,627.8 1041.8,627.7 1042.0,627.6 1042.3,627.6 1042.8,627.5 1043.0,627.5 1043.3,627.5 1043.8,627.6 1044.3,627.7 1044.8,627.8 1045.0,627.9 1045.3,627.9 1045.8,628.1 1046.3,628.3 1046.8,628.4 1047.3,628.6 1047.8,628.7 1048.0,628.8 1048.3,628.9 1048.8,629.0 1049.3,629.1 1049.8,629.2 1050.3,629.3 1050.8,629.3 1051.0,629.4 1051.3,629.4 1051.8,629.5 1052.3,629.5 1052.8,629.6 1053.3,629.6 1053.8,629.7 1054.0,629.7 1054.3,629.7 1054.8,629.7 1055.3,629.7 1055.8,629.8 1056.3,629.8 1056.8,629.8 1057.0,629.8 1057.3,629.8 1057.5,629.8"/>
<line x1="365.90" y1="680.50" x2="365.90" y2="798.20" stroke="#000" stroke-width="5.4" stroke-linecap="butt"/>
<line x1="471.10" y1="772.20" x2="471.10" y2="798.20" stroke="#000" stroke-width="5.4" stroke-linecap="butt"/>
<line x1="785.30" y1="704.00" x2="785.30" y2="798.20" stroke="#000" stroke-width="5.4" stroke-linecap="butt"/>
<line x1="980.50" y1="740.40" x2="980.50" y2="798.20" stroke="#000" stroke-width="5.4" stroke-linecap="butt"/>
<line x1="328.60" y1="814.00" x2="328.60" y2="921.00" stroke="#000" stroke-width="5.4" stroke-linecap="butt"/>
<line x1="363.70" y1="863.40" x2="363.70" y2="921.00" stroke="#000" stroke-width="5.4" stroke-linecap="butt"/>
<line x1="409.00" y1="807.80" x2="409.00" y2="921.00" stroke="#000" stroke-width="5.4" stroke-linecap="butt"/>
<line x1="610.00" y1="874.70" x2="610.00" y2="921.00" stroke="#000" stroke-width="5.4" stroke-linecap="butt"/>
<line x1="785.30" y1="847.00" x2="785.30" y2="921.00" stroke="#000" stroke-width="5.4" stroke-linecap="butt"/>
<line x1="878.80" y1="852.10" x2="878.80" y2="921.00" stroke="#000" stroke-width="5.4" stroke-linecap="butt"/>
<line x1="960.90" y1="904.80" x2="960.90" y2="921.00" stroke="#000" stroke-width="5.4" stroke-linecap="butt"/>
<line x1="980.50" y1="868.40" x2="980.50" y2="921.00" stroke="#000" stroke-width="5.4" stroke-linecap="butt"/>
<line x1="1006.80" y1="897.30" x2="1006.80" y2="921.00" stroke="#000" stroke-width="5.4" stroke-linecap="butt"/>
<path d="M176.6,41.0 L1058.6,41.0 L1060.3,921.0 L176.6,921.0 Z" fill="none" stroke="#000" stroke-width="4.8"/>
<line x1="176.60" y1="669.20" x2="1059.40" y2="669.20" stroke="#000" stroke-width="4.8" stroke-linecap="butt"/>
<line x1="176.60" y1="798.20" x2="1059.90" y2="798.20" stroke="#000" stroke-width="4.8" stroke-linecap="butt"/>
<line x1="176.80" y1="921.00" x2="176.80" y2="933.30" stroke="#000" stroke-width="4.8" stroke-linecap="butt"/>
<line x1="287.23" y1="921.00" x2="287.23" y2="933.30" stroke="#000" stroke-width="4.8" stroke-linecap="butt"/>
<line x1="397.65" y1="921.00" x2="397.65" y2="933.30" stroke="#000" stroke-width="4.8" stroke-linecap="butt"/>
<line x1="508.08" y1="921.00" x2="508.08" y2="933.30" stroke="#000" stroke-width="4.8" stroke-linecap="butt"/>
<line x1="618.50" y1="921.00" x2="618.50" y2="933.30" stroke="#000" stroke-width="4.8" stroke-linecap="butt"/>
<line x1="728.92" y1="921.00" x2="728.92" y2="933.30" stroke="#000" stroke-width="4.8" stroke-linecap="butt"/>
<line x1="839.35" y1="921.00" x2="839.35" y2="933.30" stroke="#000" stroke-width="4.8" stroke-linecap="butt"/>
<line x1="949.78" y1="921.00" x2="949.78" y2="933.30" stroke="#000" stroke-width="4.8" stroke-linecap="butt"/>
<line x1="1060.20" y1="921.00" x2="1060.20" y2="933.30" stroke="#000" stroke-width="4.8" stroke-linecap="butt"/>
<text x="19.02" y="97.00" font-size="93.00" font-family="'Liberation Serif', 'Times New Roman', serif" font-weight="bold" fill="#000" textLength="115.95" lengthAdjust="spacingAndGlyphs">(a)</text>
<text x="212.81" y="142.50" font-size="40.50" font-family="'Liberation Serif', 'Times New Roman', serif" font-weight="bold" fill="#0a0af5" textLength="93.08" lengthAdjust="spacingAndGlyphs">(100)</text>
<text x="341.10" y="75.00" font-size="40.50" font-family="'Liberation Serif', 'Times New Roman', serif" font-weight="bold" fill="#0a0af5" textLength="93.40" lengthAdjust="spacingAndGlyphs">(002)</text>
<text x="428.10" y="170.50" font-size="40.50" font-family="'Liberation Serif', 'Times New Roman', serif" font-weight="bold" fill="#0a0af5" textLength="93.60" lengthAdjust="spacingAndGlyphs">(101)</text>
<text x="548.13" y="157.70" font-size="40.50" font-family="'Liberation Serif', 'Times New Roman', serif" font-weight="bold" fill="#0a0af5" textLength="92.14" lengthAdjust="spacingAndGlyphs">(102)</text>
<text x="720.05" y="131.00" font-size="40.50" font-family="'Liberation Serif', 'Times New Roman', serif" font-weight="bold" fill="#0a0af5" textLength="93.49" lengthAdjust="spacingAndGlyphs">(110)</text>
<text x="828.10" y="131.00" font-size="40.50" font-family="'Liberation Serif', 'Times New Roman', serif" font-weight="bold" fill="#0a0af5" textLength="93.60" lengthAdjust="spacingAndGlyphs">(103)</text>
<text x="935.07" y="169.30" font-size="40.50" font-family="'Liberation Serif', 'Times New Roman', serif" font-weight="bold" fill="#0a0af5" textLength="92.45" lengthAdjust="spacingAndGlyphs">(112)</text>
<text x="258.62" y="563.00" font-size="40.50" font-family="'Liberation Serif', 'Times New Roman', serif" font-weight="bold" fill="#000" textLength="92.55" lengthAdjust="spacingAndGlyphs">(111)</text>
<text x="432.12" y="602.00" font-size="40.50" font-family="'Liberation Serif', 'Times New Roman', serif" font-weight="bold" fill="#000" textLength="92.35" lengthAdjust="spacingAndGlyphs">(200)</text>
<text x="744.72" y="562.00" font-size="40.50" font-family="'Liberation Serif', 'Times New Roman', serif" font-weight="bold" fill="#000" textLength="92.46" lengthAdjust="spacingAndGlyphs">(220)</text>
<text x="943.37" y="575.70" font-size="40.50" font-family="'Liberation Serif', 'Times New Roman', serif" font-weight="bold" fill="#000" textLength="92.55" lengthAdjust="spacingAndGlyphs">(311)</text>
<text x="556.14" y="106.30" font-size="65.73" font-family="'Liberation Serif', 'Noto Serif CJK SC', serif" font-weight="600" fill="#000" textLength="67.22" lengthAdjust="spacingAndGlyphs">Ⅲ</text>
<text x="559.64" y="438.70" font-size="63.45" font-family="'Liberation Serif', 'Noto Serif CJK SC', serif" font-weight="600" fill="#000" textLength="60.13" lengthAdjust="spacingAndGlyphs">Ⅱ</text>
<text x="562.88" y="605.80" font-size="64.66" font-family="'Liberation Serif', 'Noto Serif CJK SC', serif" font-weight="600" fill="#000" textLength="52.84" lengthAdjust="spacingAndGlyphs">Ⅰ</text>
<text x="382.13" y="718.50" font-size="45.50" font-family="'Liberation Serif', 'Times New Roman', serif" font-weight="bold" fill="#000" textLength="261.91" lengthAdjust="spacingAndGlyphs">PDF#01-0792</text>
<text x="668.88" y="719.00" font-size="43.50" font-family="'Liberation Serif', 'Times New Roman', serif" font-weight="normal" fill="#000" textLength="22.40" lengthAdjust="spacingAndGlyphs">β</text>
<text x="690.76" y="718.50" font-size="45.50" font-family="'Liberation Serif', 'Times New Roman', serif" font-weight="bold" fill="#000" textLength="99.33" lengthAdjust="spacingAndGlyphs">-ZnS</text>
<text x="420.79" y="841.20" font-size="39.00" font-family="'Liberation Serif', 'Times New Roman', serif" font-weight="bold" fill="#000" textLength="239.99" lengthAdjust="spacingAndGlyphs">PDF#10-0434</text>
<text x="673.65" y="841.20" font-size="38.00" font-family="'Liberation Serif', 'Times New Roman', serif" font-weight="normal" fill="#000" textLength="25.57" lengthAdjust="spacingAndGlyphs">α</text>
<text x="700.36" y="841.20" font-size="39.00" font-family="'Liberation Serif', 'Times New Roman', serif" font-weight="bold" fill="#000" textLength="87.69" lengthAdjust="spacingAndGlyphs">-ZnS</text>
<text x="154.57" y="974.70" font-size="42.30" font-family="'Liberation Serif', 'Times New Roman', serif" font-weight="bold" fill="#000" textLength="43.48" lengthAdjust="spacingAndGlyphs">20</text>
<text x="265.00" y="974.70" font-size="42.30" font-family="'Liberation Serif', 'Times New Roman', serif" font-weight="bold" fill="#000" textLength="43.43" lengthAdjust="spacingAndGlyphs">25</text>
<text x="375.60" y="974.70" font-size="42.30" font-family="'Liberation Serif', 'Times New Roman', serif" font-weight="bold" fill="#000" textLength="43.29" lengthAdjust="spacingAndGlyphs">30</text>
<text x="486.03" y="974.70" font-size="42.30" font-family="'Liberation Serif', 'Times New Roman', serif" font-weight="bold" fill="#000" textLength="43.24" lengthAdjust="spacingAndGlyphs">35</text>
<text x="597.51" y="974.70" font-size="42.30" font-family="'Liberation Serif', 'Times New Roman', serif" font-weight="bold" fill="#000" textLength="42.19" lengthAdjust="spacingAndGlyphs">40</text>
<text x="707.93" y="974.70" font-size="42.30" font-family="'Liberation Serif', 'Times New Roman', serif" font-weight="bold" fill="#000" textLength="42.15" lengthAdjust="spacingAndGlyphs">45</text>
<text x="817.21" y="974.70" font-size="42.30" font-family="'Liberation Serif', 'Times New Roman', serif" font-weight="bold" fill="#000" textLength="43.38" lengthAdjust="spacingAndGlyphs">50</text>
<text x="927.64" y="974.70" font-size="42.30" font-family="'Liberation Serif', 'Times New Roman', serif" font-weight="bold" fill="#000" textLength="43.34" lengthAdjust="spacingAndGlyphs">55</text>
<text x="1038.33" y="974.70" font-size="42.30" font-family="'Liberation Serif', 'Times New Roman', serif" font-weight="bold" fill="#000" textLength="43.10" lengthAdjust="spacingAndGlyphs">60</text>
<text x="441.84" y="1041.30" font-size="49.90" font-family="'Liberation Serif', 'Times New Roman', serif" font-weight="bold" fill="#000" textLength="337.70" lengthAdjust="spacingAndGlyphs">2-Theta (Degree)</text>
<text x="114.07" y="665.10" font-size="52.50" font-family="'Liberation Serif', 'Times New Roman', serif" font-weight="bold" fill="#000" textLength="192.36" lengthAdjust="spacingAndGlyphs" transform="rotate(-90 115.80 665.10)">Intensity</text>
<text x="113.52" y="455.00" font-size="52.50" font-family="'Liberation Serif', 'Times New Roman', serif" font-weight="bold" fill="#000" textLength="115.27" lengthAdjust="spacingAndGlyphs" transform="rotate(-90 115.80 455.00)">(a.u.)</text>
<polyline fill="none" stroke="#0cc6bb" stroke-width="3.5" stroke-linejoin="round" points="1286.0,245.0 1289.0,245.0 1292.0,245.0 1295.0,245.0 1298.0,245.0 1301.0,245.0 1304.0,245.0 1307.0,245.0 1310.0,245.0 1313.0,245.0 1316.0,245.0 1319.0,245.0 1322.0,245.0 1325.0,245.0 1328.0,245.0 1331.0,245.0 1334.0,245.0 1337.0,245.0 1340.0,245.0 1343.0,245.0 1346.0,245.0 1349.0,245.0 1352.0,245.0 1355.0,245.0 1358.0,245.0 1361.0,245.0 1364.0,245.0 1367.0,245.0 1370.0,245.0 1373.0,245.0 1376.0,245.0 1379.0,245.0 1382.0,245.0 1385.0,245.0 1388.0,245.0 1391.0,245.0 1394.0,245.0 1397.0,245.0 1400.0,245.0 1403.0,245.0 1406.0,245.0 1409.0,245.0 1412.0,245.0 1415.0,245.0 1418.0,245.0 1421.0,245.0 1424.0,244.9 1427.0,244.9 1430.0,244.9 1433.0,244.9 1436.0,244.9 1436.6,244.9 1437.6,244.8 1438.6,244.8 1439.0,244.8 1439.6,244.8 1440.6,244.8 1441.6,244.7 1442.0,244.7 1442.6,244.7 1443.6,244.6 1444.6,244.6 1445.0,244.5 1445.6,244.5 1446.6,244.3 1447.6,244.1 1448.0,244.0 1448.6,243.8 1449.6,243.4 1450.6,242.5 1451.0,241.9 1451.1,241.8 1451.6,240.7 1452.1,238.9 1452.6,235.3 1453.1,224.6 1453.6,195.0 1454.0,148.9 1454.1,140.5 1454.6,99.7 1454.6,99.5 1455.1,133.4 1455.6,189.6 1456.1,222.3 1456.6,234.5 1457.0,238.3 1457.1,238.6 1457.6,240.5 1458.1,241.7 1458.6,242.4 1459.1,242.9 1459.6,243.3 1460.0,243.6 1460.6,243.8 1461.6,244.1 1462.6,244.3 1463.0,244.4 1463.6,244.4 1464.6,244.5 1465.6,244.6 1466.0,244.6 1466.6,244.7 1467.6,244.7 1468.6,244.7 1469.0,244.7 1469.6,244.7 1470.6,244.8 1471.6,244.8 1472.0,244.8 1472.6,244.8 1475.0,244.8 1478.0,244.8 1478.0,244.8 1479.0,244.8 1480.0,244.7 1481.0,244.7 1481.0,244.7 1482.0,244.7 1483.0,244.6 1484.0,244.6 1484.0,244.6 1485.0,244.5 1486.0,244.4 1487.0,244.2 1487.0,244.2 1488.0,244.0 1489.0,243.5 1489.5,243.2 1490.0,242.7 1490.0,242.7 1490.5,241.9 1491.0,240.8 1491.5,238.8 1492.0,233.5 1492.5,217.8 1493.0,186.5 1493.0,182.0 1493.5,136.9 1493.8,128.0 1494.0,136.9 1494.5,182.0 1495.0,217.8 1495.5,233.5 1496.0,238.5 1496.0,238.8 1496.5,240.8 1497.0,242.0 1497.5,242.7 1498.0,243.2 1498.5,243.5 1499.0,243.7 1499.0,243.8 1500.0,244.1 1501.0,244.3 1502.0,244.5 1502.0,244.5 1503.0,244.6 1504.0,244.6 1505.0,244.7 1505.0,244.7 1506.0,244.7 1507.0,244.8 1508.0,244.8 1508.0,244.8 1509.0,244.8 1511.0,244.8 1514.0,244.9 1517.0,244.9 1520.0,244.9 1523.0,244.9 1526.0,244.8 1526.2,244.8 1527.2,244.8 1528.2,244.8 1529.0,244.8 1529.2,244.8 1530.2,244.7 1531.2,244.7 1532.0,244.7 1532.2,244.6 1533.2,244.6 1534.2,244.5 1535.0,244.4 1535.2,244.3 1536.2,244.1 1537.2,243.8 1538.0,243.3 1538.2,243.1 1538.8,242.7 1539.2,242.0 1539.8,240.9 1540.2,239.0 1540.8,234.5 1541.0,229.5 1541.2,220.9 1541.8,187.4 1542.2,138.1 1542.6,120.6 1542.8,124.1 1543.2,167.9 1543.8,210.4 1544.0,223.0 1544.2,230.7 1544.8,237.7 1545.2,240.3 1545.8,241.6 1546.2,242.4 1546.8,243.0 1547.0,243.2 1547.2,243.4 1547.8,243.7 1548.8,244.1 1549.8,244.3 1550.0,244.3 1550.8,244.5 1551.8,244.6 1552.8,244.6 1553.0,244.7 1553.8,244.7 1554.8,244.7 1555.8,244.8 1556.0,244.8 1556.8,244.8 1557.8,244.8 1558.8,244.9 1559.0,244.9 1562.0,244.9 1565.0,244.9 1568.0,244.9 1571.0,244.9 1574.0,245.0 1577.0,245.0 1580.0,245.0 1583.0,245.0 1586.0,245.0 1589.0,245.0 1592.0,245.0 1595.0,245.0 1598.0,245.0 1601.0,245.0 1604.0,245.0 1607.0,245.0 1610.0,245.0 1613.0,245.0 1616.0,245.0 1619.0,245.0 1622.0,245.0 1625.0,245.0 1628.0,245.0 1631.0,245.0 1634.0,245.0 1637.0,245.0 1640.0,245.0 1643.0,245.0 1646.0,245.0 1649.0,245.0 1652.0,245.0 1655.0,245.0 1658.0,245.0 1661.0,245.0 1664.0,245.0 1667.0,245.0 1670.0,245.0 1673.0,245.0 1676.0,245.0 1679.0,245.0 1682.0,245.0 1685.0,245.0 1688.0,245.0 1691.0,245.0 1694.0,245.0 1697.0,245.0 1700.0,245.0 1703.0,245.0 1706.0,245.0 1709.0,245.0 1712.0,245.0 1715.0,245.0 1718.0,245.0 1721.0,245.0 1724.0,245.0 1727.0,245.0 1730.0,245.0 1733.0,245.0 1736.0,245.0 1739.0,245.0 1742.0,245.0 1745.0,245.0 1748.0,245.0 1751.0,244.9 1754.0,244.9 1754.1,244.9 1755.1,244.8 1756.1,244.8 1757.0,244.7 1757.1,244.7 1758.1,244.6 1759.1,244.5 1759.6,244.3 1760.0,244.1 1760.1,244.1 1760.6,243.8 1761.1,243.3 1761.6,242.1 1762.1,238.7 1762.6,229.6 1763.0,216.8 1763.1,214.7 1763.5,207.1 1763.6,207.3 1764.1,219.0 1764.6,232.8 1765.1,240.0 1765.6,242.6 1766.0,243.4 1766.1,243.5 1766.6,243.9 1767.1,244.2 1767.6,244.4 1768.1,244.5 1768.6,244.6 1769.0,244.6 1769.6,244.7 1770.6,244.8 1771.6,244.8 1772.0,244.8 1772.6,244.9 1775.0,244.9 1778.0,244.9 1781.0,245.0 1784.0,245.0 1787.0,245.0 1790.0,245.0 1793.0,245.0 1796.0,245.0 1799.0,245.0 1802.0,245.0 1805.0,245.0 1808.0,245.0 1811.0,245.0 1814.0,245.0 1817.0,245.0 1820.0,245.0 1823.0,245.0 1826.0,245.0 1829.0,245.0 1832.0,245.0 1835.0,245.0 1838.0,245.0 1841.0,245.0 1844.0,245.0 1847.0,245.0 1850.0,245.0 1853.0,245.0 1856.0,245.0 1859.0,245.0 1862.0,245.0 1865.0,245.0 1868.0,245.0 1871.0,245.0 1874.0,245.0 1877.0,245.0 1880.0,245.0 1883.0,245.0 1886.0,245.0 1889.0,245.0 1892.0,245.0 1895.0,245.0 1898.0,245.0 1901.0,245.0 1904.0,245.0 1907.0,245.0 1910.0,245.0 1913.0,245.0 1916.0,245.0 1919.0,245.0 1922.0,245.0 1925.0,245.0 1928.0,245.0 1931.0,245.0 1934.0,244.9 1937.0,244.9 1940.0,244.9 1942.7,244.9 1943.0,244.9 1943.7,244.8 1944.7,244.8 1945.7,244.8 1946.0,244.8 1946.7,244.7 1947.7,244.6 1948.7,244.5 1949.0,244.5 1949.7,244.4 1950.7,244.2 1951.7,243.8 1952.0,243.6 1952.2,243.4 1952.7,243.0 1953.2,242.3 1953.7,241.2 1954.2,238.6 1954.7,231.2 1955.0,222.5 1955.2,211.3 1955.7,177.1 1956.2,156.6 1956.2,156.7 1956.7,181.5 1957.2,214.6 1957.7,232.6 1958.0,237.0 1958.2,239.1 1958.7,241.3 1959.2,242.4 1959.7,243.1 1960.2,243.5 1960.7,243.8 1961.0,243.9 1961.2,244.0 1962.2,244.3 1963.2,244.5 1964.0,244.6 1964.2,244.6 1965.2,244.7 1966.2,244.7 1967.0,244.8 1967.2,244.8 1968.2,244.8 1969.2,244.8 1970.0,244.9 1973.0,244.9 1976.0,244.9 1979.0,244.9 1982.0,245.0 1985.0,245.0 1988.0,245.0 1991.0,245.0 1994.0,245.0 1997.0,245.0 2000.0,245.0 2003.0,245.0 2006.0,245.0 2009.0,245.0 2012.0,245.0 2015.0,245.0 2018.0,245.0 2021.0,245.0 2024.0,245.0 2027.0,245.0 2030.0,245.0 2033.0,245.0 2036.0,245.0 2039.0,244.9 2042.0,244.9 2045.0,244.9 2046.7,244.9 2047.7,244.8 2048.0,244.8 2048.7,244.8 2049.7,244.7 2050.7,244.7 2051.0,244.7 2051.7,244.6 2052.7,244.5 2053.7,244.2 2054.0,244.1 2054.7,243.8 2055.2,243.5 2055.7,243.0 2056.2,242.2 2056.7,240.6 2057.0,238.5 2057.2,236.3 2057.7,223.7 2058.2,198.4 2058.7,174.7 2058.8,173.6 2059.2,185.7 2059.7,214.0 2060.0,226.8 2060.2,232.2 2060.7,239.3 2061.2,241.7 2061.7,242.7 2062.2,243.3 2062.7,243.7 2063.0,243.9 2063.2,244.0 2063.7,244.2 2064.7,244.4 2065.7,244.6 2066.0,244.6 2066.7,244.7 2067.7,244.7 2068.7,244.8 2069.0,244.8 2069.7,244.8 2070.7,244.9 2072.0,244.9 2075.0,244.9 2078.0,244.9 2081.0,245.0 2084.0,245.0 2087.0,245.0 2090.0,245.0 2093.0,245.0 2096.0,245.0 2099.0,245.0 2102.0,245.0 2105.0,245.0 2108.0,245.0 2111.0,245.0 2114.0,245.0 2117.0,245.0 2120.0,245.0 2123.0,245.0 2126.0,245.0 2129.0,245.0 2132.0,245.0 2135.0,245.0 2138.0,245.0 2141.0,244.9 2141.5,244.9 2142.5,244.9 2143.5,244.9 2144.0,244.8 2144.5,244.8 2145.0,244.8 2145.5,244.7 2146.0,244.6 2146.5,244.4 2147.0,243.9 2147.0,243.9 2147.5,242.6 2148.0,239.3 2148.5,234.8 2148.8,233.5 2149.0,234.1 2149.5,238.3 2150.0,242.0 2150.0,242.1 2150.5,243.7 2151.0,244.3 2151.5,244.5 2152.0,244.6 2152.5,244.7 2153.0,244.8 2153.0,244.8 2153.5,244.8 2154.0,244.8 2155.0,244.9 2156.0,244.9 2156.0,244.9 2159.0,244.9 2160.3,244.8 2161.3,244.8 2162.0,244.8 2162.3,244.8 2163.3,244.7 2164.3,244.6 2165.0,244.6 2165.3,244.5 2166.3,244.3 2166.8,244.1 2167.3,243.8 2167.8,243.4 2168.0,243.2 2168.3,242.8 2168.8,241.3 2169.3,237.1 2169.8,225.6 2170.3,205.9 2170.8,194.1 2170.8,194.1 2171.0,196.6 2171.3,208.4 2171.8,227.5 2172.3,237.8 2172.8,241.6 2173.3,242.9 2173.8,243.5 2174.0,243.6 2174.3,243.9 2174.8,244.1 2175.3,244.3 2175.8,244.4 2176.8,244.6 2177.0,244.6 2177.8,244.7 2178.8,244.8 2179.8,244.8 2180.0,244.8 2180.8,244.8 2183.0,244.9 2186.0,244.9 2189.0,244.9 2192.0,244.9 2192.0,244.9 2193.0,244.9 2194.0,244.8 2195.0,244.8 2195.0,244.8 2195.5,244.7 2196.0,244.7 2196.5,244.6 2197.0,244.4 2197.5,244.0 2198.0,243.0 2198.0,242.9 2198.5,239.9 2199.0,234.7 2199.5,231.6 2199.5,231.6 2200.0,235.3 2200.5,240.4 2201.0,243.0 2201.0,243.1 2201.5,244.1 2202.0,244.4 2202.5,244.6 2203.0,244.7 2203.5,244.8 2204.0,244.8 2204.0,244.8 2204.5,244.8 2205.5,244.9 2206.5,244.9 2207.0,244.9 2210.0,245.0 2213.0,245.0 2216.0,245.0 2219.0,245.0 2222.0,245.0 2225.0,245.0 2227.2,245.0 2228.0,245.0 2228.2,245.0 2229.2,245.0 2229.7,244.9 2230.2,244.9 2230.7,244.9 2231.0,244.9 2231.2,244.9 2231.7,244.8 2232.2,244.7 2232.7,244.2 2233.2,243.3 2233.7,242.5 2233.8,242.5 2234.0,242.6 2234.2,242.9 2234.7,243.9 2235.2,244.6 2235.7,244.8 2236.2,244.9 2236.7,244.9 2237.0,244.9 2237.2,244.9 2237.7,244.9 2238.2,245.0 2238.7,245.0 2239.7,245.0 2240.0,245.0 2243.0,245.0 2246.0,245.0 2249.0,245.0 2252.0,245.0 2255.0,245.0 2258.0,245.0 2258.5,245.0"/>
<polyline fill="none" stroke="#c8950f" stroke-width="3.5" stroke-linejoin="round" points="1286.0,393.1 1289.0,393.1 1292.0,393.1 1295.0,393.1 1298.0,393.1 1301.0,393.1 1304.0,393.1 1307.0,393.1 1310.0,393.1 1313.0,393.1 1316.0,393.1 1319.0,393.1 1322.0,393.1 1325.0,393.1 1328.0,393.1 1331.0,393.1 1334.0,393.1 1337.0,393.1 1340.0,393.1 1343.0,393.1 1346.0,393.1 1349.0,393.1 1352.0,393.1 1355.0,393.1 1358.0,393.1 1361.0,393.1 1364.0,393.1 1367.0,393.1 1370.0,393.1 1373.0,393.1 1376.0,393.1 1379.0,393.1 1382.0,393.1 1385.0,393.1 1388.0,393.1 1391.0,393.1 1394.0,393.1 1397.0,393.1 1400.0,393.1 1403.0,393.1 1406.0,393.1 1409.0,393.1 1412.0,393.1 1415.0,393.1 1418.0,393.1 1421.0,393.1 1424.0,393.1 1427.0,393.0 1430.0,393.0 1433.0,393.0 1436.0,393.0 1437.5,393.0 1438.5,392.9 1439.0,392.9 1439.5,392.9 1440.5,392.9 1441.5,392.9 1442.0,392.8 1442.5,392.8 1443.5,392.8 1444.5,392.7 1445.0,392.7 1445.5,392.6 1446.5,392.5 1447.5,392.3 1448.0,392.2 1448.5,392.1 1449.5,391.6 1450.5,390.8 1451.0,390.3 1451.0,390.2 1451.5,389.3 1452.0,387.7 1452.5,384.6 1453.0,375.6 1453.5,350.3 1454.0,305.0 1454.0,301.7 1454.5,260.6 1454.6,259.8 1455.0,286.5 1455.5,338.8 1456.0,370.8 1456.5,383.0 1457.0,386.9 1457.0,387.1 1457.5,388.9 1458.0,390.0 1458.5,390.7 1459.0,391.2 1459.5,391.5 1460.0,391.8 1460.5,392.0 1461.5,392.3 1462.5,392.5 1463.0,392.5 1463.5,392.6 1464.5,392.7 1465.5,392.7 1466.0,392.8 1466.5,392.8 1467.5,392.8 1468.5,392.8 1469.0,392.9 1469.5,392.9 1470.5,392.9 1471.5,392.9 1472.0,392.9 1475.0,392.9 1478.0,392.9 1479.0,392.9 1480.0,392.9 1481.0,392.9 1481.0,392.9 1482.0,392.8 1483.0,392.8 1484.0,392.7 1484.0,392.7 1485.0,392.7 1486.0,392.6 1487.0,392.4 1487.0,392.4 1488.0,392.2 1489.0,391.8 1490.0,391.1 1490.0,391.0 1490.5,390.5 1491.0,389.5 1491.5,387.9 1492.0,383.9 1492.5,371.9 1493.0,342.8 1493.0,340.4 1493.5,301.1 1493.8,287.7 1494.0,291.6 1494.5,329.6 1495.0,364.8 1495.5,381.4 1496.0,387.0 1496.0,387.2 1496.5,389.1 1497.0,390.2 1497.5,390.9 1498.0,391.4 1498.5,391.7 1499.0,392.0 1499.0,392.0 1500.0,392.3 1501.0,392.5 1502.0,392.6 1502.0,392.6 1503.0,392.7 1504.0,392.8 1505.0,392.8 1505.0,392.8 1506.0,392.9 1507.0,392.9 1508.0,392.9 1508.0,392.9 1511.0,393.0 1514.0,393.0 1517.0,393.0 1520.0,393.0 1523.0,393.0 1526.0,393.0 1528.5,392.9 1529.0,392.9 1529.5,392.9 1530.5,392.9 1531.5,392.8 1532.0,392.8 1532.5,392.8 1533.5,392.7 1534.5,392.7 1535.0,392.6 1535.5,392.5 1536.5,392.3 1537.5,392.0 1538.0,391.8 1538.5,391.5 1539.0,391.0 1539.5,390.3 1540.0,389.2 1540.5,387.0 1541.0,381.2 1541.0,380.5 1541.5,362.4 1542.0,327.4 1542.5,297.9 1542.6,297.3 1543.0,316.5 1543.5,354.1 1544.0,376.2 1544.0,377.0 1544.5,385.8 1545.0,388.8 1545.5,390.1 1546.0,390.9 1546.5,391.4 1547.0,391.7 1547.0,391.7 1547.5,392.0 1548.5,392.3 1549.5,392.5 1550.0,392.6 1550.5,392.7 1551.5,392.7 1552.5,392.8 1553.0,392.8 1553.5,392.9 1554.5,392.9 1555.5,392.9 1556.0,392.9 1556.5,392.9 1559.0,393.0 1562.0,393.0 1565.0,393.0 1568.0,393.0 1571.0,393.1 1574.0,393.1 1577.0,393.1 1580.0,393.1 1583.0,393.1 1586.0,393.1 1589.0,393.1 1592.0,393.1 1595.0,393.1 1598.0,393.1 1601.0,393.1 1604.0,393.1 1607.0,393.1 1610.0,393.1 1613.0,393.1 1616.0,393.1 1619.0,393.1 1622.0,393.1 1625.0,393.1 1628.0,393.1 1631.0,393.1 1634.0,393.1 1637.0,393.1 1640.0,393.1 1643.0,393.1 1646.0,393.1 1649.0,393.1 1652.0,393.1 1655.0,393.1 1658.0,393.1 1661.0,393.1 1664.0,393.1 1667.0,393.1 1670.0,393.1 1673.0,393.1 1676.0,393.1 1679.0,393.1 1682.0,393.1 1685.0,393.1 1688.0,393.1 1691.0,393.1 1694.0,393.1 1697.0,393.1 1700.0,393.1 1703.0,393.1 1706.0,393.1 1709.0,393.1 1712.0,393.1 1715.0,393.1 1718.0,393.1 1721.0,393.1 1724.0,393.1 1727.0,393.1 1730.0,393.1 1733.0,393.1 1736.0,393.1 1739.0,393.1 1742.0,393.1 1745.0,393.1 1748.0,393.1 1751.0,393.0 1754.0,393.0 1754.5,393.0 1755.5,393.0 1756.5,392.9 1757.0,392.9 1757.5,392.8 1758.5,392.7 1759.5,392.5 1760.0,392.4 1760.0,392.4 1760.5,392.1 1761.0,391.7 1761.5,390.7 1762.0,388.0 1762.5,380.6 1763.0,369.4 1763.0,368.2 1763.5,361.3 1763.5,361.4 1764.0,370.8 1764.5,382.5 1765.0,388.8 1765.5,391.0 1766.0,391.7 1766.0,391.8 1766.5,392.2 1767.0,392.4 1767.5,392.6 1768.0,392.7 1768.5,392.7 1769.0,392.8 1769.5,392.9 1770.5,392.9 1771.5,393.0 1772.0,393.0 1775.0,393.0 1778.0,393.1 1781.0,393.1 1784.0,393.1 1787.0,393.1 1790.0,393.1 1793.0,393.1 1796.0,393.1 1799.0,393.1 1802.0,393.1 1805.0,393.1 1808.0,393.1 1811.0,393.1 1814.0,393.1 1817.0,393.1 1820.0,393.1 1823.0,393.1 1826.0,393.1 1829.0,393.1 1832.0,393.1 1835.0,393.1 1838.0,393.1 1841.0,393.1 1844.0,393.1 1847.0,393.1 1850.0,393.1 1853.0,393.1 1856.0,393.1 1859.0,393.1 1862.0,393.1 1865.0,393.1 1868.0,393.1 1871.0,393.1 1874.0,393.1 1877.0,393.1 1880.0,393.1 1883.0,393.1 1886.0,393.1 1889.0,393.1 1892.0,393.1 1895.0,393.1 1898.0,393.1 1901.0,393.1 1904.0,393.1 1907.0,393.1 1910.0,393.1 1913.0,393.1 1916.0,393.1 1919.0,393.1 1922.0,393.1 1925.0,393.1 1928.0,393.1 1931.0,393.1 1934.0,393.1 1937.0,393.0 1940.0,393.0 1943.0,393.0 1943.6,393.0 1944.6,392.9 1945.6,392.9 1946.0,392.9 1946.6,392.9 1947.6,392.8 1948.6,392.7 1949.0,392.7 1949.6,392.6 1950.6,392.4 1951.6,392.1 1952.0,391.9 1952.1,391.8 1952.6,391.5 1953.1,390.9 1953.6,390.1 1954.1,388.4 1954.6,383.6 1955.0,373.4 1955.1,369.9 1955.6,342.5 1956.1,316.7 1956.2,315.5 1956.6,328.7 1957.1,359.4 1957.6,379.1 1958.0,386.1 1958.1,386.9 1958.6,389.5 1959.1,390.6 1959.6,391.3 1960.1,391.7 1960.6,392.0 1961.0,392.2 1961.1,392.2 1962.1,392.5 1963.1,392.6 1964.0,392.7 1964.1,392.7 1965.1,392.8 1966.1,392.9 1967.0,392.9 1967.1,392.9 1968.1,392.9 1970.0,393.0 1973.0,393.0 1976.0,393.0 1979.0,393.1 1982.0,393.1 1985.0,393.1 1988.0,393.1 1991.0,393.1 1994.0,393.1 1997.0,393.1 2000.0,393.1 2003.0,393.1 2006.0,393.1 2009.0,393.1 2012.0,393.1 2015.0,393.1 2018.0,393.1 2021.0,393.1 2024.0,393.1 2027.0,393.1 2030.0,393.1 2033.0,393.1 2036.0,393.1 2039.0,393.0 2042.0,393.0 2045.0,393.0 2047.4,393.0 2048.0,392.9 2048.4,392.9 2049.4,392.9 2050.4,392.8 2051.0,392.8 2051.4,392.8 2052.4,392.7 2053.4,392.5 2054.0,392.3 2054.4,392.2 2054.9,392.0 2055.4,391.6 2055.9,391.1 2056.4,390.2 2056.9,388.1 2057.0,387.4 2057.4,381.9 2057.9,366.0 2058.4,341.4 2058.8,330.8 2058.9,331.7 2059.4,352.5 2059.9,374.5 2060.0,377.3 2060.4,385.5 2060.9,389.3 2061.4,390.7 2061.9,391.4 2062.4,391.8 2062.9,392.1 2063.0,392.1 2063.4,392.3 2063.9,392.4 2064.9,392.6 2065.9,392.7 2066.0,392.8 2066.9,392.8 2067.9,392.9 2068.9,392.9 2069.0,392.9 2069.9,393.0 2072.0,393.0 2075.0,393.0 2078.0,393.0 2081.0,393.1 2084.0,393.1 2087.0,393.1 2090.0,393.1 2093.0,393.1 2096.0,393.1 2099.0,393.1 2102.0,393.1 2105.0,393.1 2108.0,393.1 2111.0,393.1 2114.0,393.1 2117.0,393.1 2120.0,393.1 2123.0,393.1 2126.0,393.1 2129.0,393.1 2132.0,393.1 2135.0,393.1 2138.0,393.1 2141.0,393.0 2141.5,393.0 2142.5,393.0 2143.5,393.0 2144.0,392.9 2144.5,392.9 2145.0,392.9 2145.5,392.8 2146.0,392.7 2146.5,392.5 2147.0,392.1 2147.0,392.0 2147.5,390.7 2148.0,387.4 2148.5,383.2 2148.8,382.2 2149.0,382.9 2149.5,387.1 2150.0,390.3 2150.0,390.5 2150.5,392.0 2151.0,392.5 2151.5,392.7 2152.0,392.8 2152.5,392.8 2153.0,392.9 2153.0,392.9 2153.5,392.9 2154.0,392.9 2155.0,393.0 2156.0,393.0 2156.0,393.0 2159.0,393.0 2160.8,392.9 2161.8,392.9 2162.0,392.9 2162.8,392.9 2163.8,392.8 2164.8,392.7 2165.0,392.7 2165.8,392.6 2166.8,392.3 2167.3,392.1 2167.8,391.7 2168.0,391.6 2168.3,391.1 2168.8,389.8 2169.3,385.9 2169.8,375.6 2170.3,358.4 2170.8,348.8 2170.8,348.9 2171.0,351.0 2171.3,362.0 2171.8,378.4 2172.3,387.1 2172.8,390.2 2173.3,391.3 2173.8,391.8 2174.0,391.9 2174.3,392.1 2174.8,392.3 2175.3,392.5 2175.8,392.6 2176.8,392.7 2177.0,392.8 2177.8,392.8 2178.8,392.9 2179.8,392.9 2180.0,392.9 2183.0,393.0 2186.0,393.0 2189.0,393.0 2192.0,393.0 2192.2,393.0 2193.2,393.0 2194.2,393.0 2195.0,392.9 2195.2,392.9 2195.7,392.9 2196.2,392.8 2196.7,392.7 2197.2,392.5 2197.7,392.1 2198.0,391.5 2198.2,390.7 2198.7,387.4 2199.2,383.2 2199.5,382.3 2199.7,383.0 2200.2,387.1 2200.7,390.5 2201.0,391.5 2201.2,392.0 2201.7,392.5 2202.2,392.7 2202.7,392.8 2203.2,392.9 2203.7,392.9 2204.0,392.9 2204.2,393.0 2204.7,393.0 2205.7,393.0 2206.7,393.0 2207.0,393.0 2210.0,393.1 2213.0,393.1 2216.0,393.1 2219.0,393.1 2222.0,393.1 2225.0,393.1 2228.0,393.1 2231.0,393.1 2234.0,393.1 2237.0,393.1 2240.0,393.1 2243.0,393.1 2246.0,393.1 2249.0,393.1 2252.0,393.1 2255.0,393.1 2258.0,393.1 2258.5,393.1"/>
<polyline fill="none" stroke="#ab73cc" stroke-width="3.5" stroke-linejoin="round" points="1286.0,508.1 1289.0,508.1 1292.0,508.1 1295.0,508.1 1298.0,508.1 1301.0,508.1 1304.0,508.1 1307.0,508.1 1310.0,508.1 1313.0,508.1 1316.0,508.1 1319.0,508.1 1322.0,508.1 1325.0,508.1 1328.0,508.1 1331.0,508.1 1334.0,508.1 1337.0,508.1 1340.0,508.1 1343.0,508.1 1346.0,508.1 1349.0,508.1 1352.0,508.1 1355.0,508.1 1358.0,508.1 1361.0,508.1 1364.0,508.1 1367.0,508.1 1370.0,508.1 1373.0,508.1 1376.0,508.1 1379.0,508.1 1382.0,508.1 1385.0,508.1 1388.0,508.1 1391.0,508.1 1394.0,508.1 1397.0,508.1 1400.0,508.1 1403.0,508.1 1406.0,508.1 1409.0,508.1 1412.0,508.1 1415.0,508.1 1418.0,508.1 1421.0,508.1 1424.0,508.1 1427.0,508.1 1430.0,508.0 1433.0,508.0 1436.0,508.0 1439.0,508.0 1440.2,508.0 1441.2,507.9 1442.0,507.9 1442.2,507.9 1443.2,507.9 1444.2,507.8 1445.0,507.8 1445.2,507.8 1446.2,507.7 1447.2,507.6 1448.0,507.4 1448.2,507.4 1449.2,507.1 1450.2,506.6 1450.8,506.2 1451.0,506.0 1451.2,505.7 1451.8,504.8 1452.2,503.3 1452.8,499.7 1453.2,488.9 1453.8,462.1 1454.0,442.5 1454.2,422.7 1454.6,408.8 1454.8,411.6 1455.2,446.6 1455.8,480.5 1456.2,496.7 1456.8,502.3 1457.0,503.5 1457.2,504.3 1457.8,505.4 1458.2,506.0 1458.8,506.5 1459.2,506.8 1459.8,507.0 1460.0,507.1 1460.8,507.3 1461.8,507.5 1462.8,507.6 1463.0,507.7 1463.8,507.7 1464.8,507.8 1465.8,507.8 1466.0,507.8 1466.8,507.9 1467.8,507.9 1468.8,507.9 1469.0,507.9 1472.0,507.9 1475.0,508.0 1478.0,507.9 1480.3,507.9 1481.0,507.9 1481.3,507.9 1482.3,507.9 1483.3,507.8 1484.0,507.8 1484.3,507.8 1485.3,507.7 1486.3,507.6 1487.0,507.5 1487.3,507.5 1488.3,507.2 1489.3,506.8 1489.8,506.5 1490.0,506.4 1490.3,506.0 1490.8,505.3 1491.3,504.2 1491.8,501.6 1492.3,493.8 1492.8,473.4 1493.0,464.0 1493.3,439.0 1493.8,419.9 1493.8,420.2 1494.3,446.2 1494.8,478.8 1495.3,496.1 1495.8,502.3 1496.0,503.2 1496.3,504.5 1496.8,505.5 1497.3,506.2 1497.8,506.6 1498.3,506.9 1498.8,507.1 1499.0,507.2 1499.8,507.4 1500.8,507.6 1501.8,507.7 1502.0,507.7 1502.8,507.8 1503.8,507.8 1504.8,507.9 1505.0,507.9 1505.8,507.9 1506.8,507.9 1508.0,507.9 1511.0,508.0 1514.0,508.0 1517.0,508.0 1520.0,508.0 1523.0,508.0 1526.0,508.0 1529.0,508.0 1529.8,507.9 1530.8,507.9 1531.8,507.9 1532.0,507.9 1532.8,507.8 1533.8,507.8 1534.8,507.7 1535.0,507.7 1535.8,507.6 1536.8,507.4 1537.8,507.1 1538.0,507.0 1538.3,506.9 1538.8,506.5 1539.3,506.1 1539.8,505.3 1540.3,504.0 1540.8,500.6 1541.0,498.2 1541.3,490.6 1541.8,467.0 1542.3,435.8 1542.6,428.4 1542.8,433.1 1543.3,463.3 1543.8,488.6 1544.0,494.0 1544.3,499.9 1544.8,503.8 1545.3,505.2 1545.8,506.0 1546.3,506.5 1546.8,506.8 1547.0,506.9 1547.3,507.1 1547.8,507.3 1548.8,507.5 1549.8,507.7 1550.0,507.7 1550.8,507.8 1551.8,507.8 1552.8,507.9 1553.0,507.9 1553.8,507.9 1554.8,507.9 1556.0,508.0 1559.0,508.0 1562.0,508.0 1565.0,508.0 1568.0,508.1 1571.0,508.1 1574.0,508.1 1577.0,508.1 1580.0,508.1 1583.0,508.1 1586.0,508.1 1589.0,508.1 1592.0,508.1 1595.0,508.1 1598.0,508.1 1601.0,508.1 1604.0,508.1 1607.0,508.1 1610.0,508.1 1613.0,508.1 1616.0,508.1 1619.0,508.1 1622.0,508.1 1625.0,508.1 1628.0,508.1 1631.0,508.1 1634.0,508.1 1637.0,508.1 1640.0,508.1 1643.0,508.1 1646.0,508.1 1649.0,508.1 1652.0,508.1 1655.0,508.1 1658.0,508.1 1661.0,508.1 1664.0,508.1 1667.0,508.1 1670.0,508.1 1673.0,508.1 1676.0,508.1 1679.0,508.1 1682.0,508.1 1685.0,508.1 1688.0,508.1 1691.0,508.1 1694.0,508.1 1697.0,508.1 1700.0,508.1 1703.0,508.1 1706.0,508.1 1709.0,508.1 1712.0,508.1 1715.0,508.1 1718.0,508.1 1721.0,508.1 1724.0,508.1 1727.0,508.1 1730.0,508.1 1733.0,508.1 1736.0,508.1 1739.0,508.1 1742.0,508.1 1745.0,508.1 1748.0,508.1 1751.0,508.0 1754.0,508.0 1754.8,508.0 1755.8,508.0 1756.8,507.9 1757.0,507.9 1757.8,507.8 1758.8,507.7 1759.3,507.6 1759.8,507.5 1760.0,507.5 1760.3,507.3 1760.8,507.0 1761.3,506.5 1761.8,504.9 1762.3,500.3 1762.8,490.7 1763.0,487.2 1763.3,480.8 1763.5,480.0 1763.8,483.9 1764.3,495.1 1764.8,502.7 1765.3,505.7 1765.8,506.7 1766.0,506.9 1766.3,507.2 1766.8,507.4 1767.3,507.6 1767.8,507.7 1768.3,507.8 1769.0,507.8 1769.3,507.9 1770.3,507.9 1771.3,508.0 1772.0,508.0 1775.0,508.0 1778.0,508.1 1781.0,508.1 1784.0,508.1 1787.0,508.1 1790.0,508.1 1793.0,508.1 1796.0,508.1 1799.0,508.1 1802.0,508.1 1805.0,508.1 1808.0,508.1 1811.0,508.1 1814.0,508.1 1817.0,508.1 1820.0,508.1 1823.0,508.1 1826.0,508.1 1829.0,508.1 1832.0,508.1 1835.0,508.1 1838.0,508.1 1841.0,508.1 1844.0,508.1 1847.0,508.1 1850.0,508.1 1853.0,508.1 1856.0,508.1 1859.0,508.1 1862.0,508.1 1865.0,508.1 1868.0,508.1 1871.0,508.1 1874.0,508.1 1877.0,508.1 1880.0,508.1 1883.0,508.1 1886.0,508.1 1889.0,508.1 1892.0,508.1 1895.0,508.1 1898.0,508.1 1901.0,508.1 1904.0,508.1 1907.0,508.1 1910.0,508.1 1913.0,508.1 1916.0,508.1 1919.0,508.1 1922.0,508.1 1925.0,508.1 1928.0,508.1 1931.0,508.1 1934.0,508.1 1937.0,508.1 1940.0,508.0 1943.0,508.0 1945.9,508.0 1946.0,508.0 1946.9,507.9 1947.9,507.9 1948.9,507.8 1949.0,507.8 1949.9,507.8 1950.9,507.6 1951.9,507.4 1952.0,507.3 1952.4,507.2 1952.9,506.9 1953.4,506.5 1953.9,505.7 1954.4,503.8 1954.9,498.2 1955.0,495.6 1955.4,484.6 1955.9,465.2 1956.2,459.0 1956.4,460.8 1956.9,478.5 1957.4,494.9 1957.9,502.7 1958.0,503.6 1958.4,505.3 1958.9,506.3 1959.4,506.8 1959.9,507.1 1960.4,507.3 1960.9,507.5 1961.0,507.5 1961.4,507.6 1962.4,507.7 1963.4,507.8 1964.0,507.9 1964.4,507.9 1965.4,507.9 1966.4,508.0 1967.0,508.0 1970.0,508.0 1973.0,508.0 1976.0,508.1 1979.0,508.1 1982.0,508.1 1985.0,508.1 1988.0,508.1 1991.0,508.1 1994.0,508.1 1997.0,508.1 2000.0,508.1 2003.0,508.1 2006.0,508.1 2009.0,508.1 2012.0,508.1 2015.0,508.1 2018.0,508.1 2021.0,508.1 2024.0,508.1 2027.0,508.1 2030.0,508.1 2033.0,508.1 2036.0,508.1 2039.0,508.1 2042.0,508.0 2045.0,508.0 2048.0,508.0 2048.7,508.0 2049.7,507.9 2050.7,507.9 2051.0,507.9 2051.7,507.8 2052.7,507.7 2053.7,507.6 2054.0,507.5 2054.7,507.3 2055.2,507.1 2055.7,506.8 2056.2,506.3 2056.7,505.3 2057.0,503.9 2057.2,502.4 2057.7,494.3 2058.2,477.9 2058.7,462.5 2058.8,461.8 2059.2,469.6 2059.7,488.0 2060.0,496.3 2060.2,499.8 2060.7,504.4 2061.2,505.9 2061.7,506.6 2062.2,507.0 2062.7,507.3 2063.0,507.4 2063.2,507.4 2063.7,507.6 2064.7,507.7 2065.7,507.8 2066.0,507.8 2066.7,507.9 2067.7,507.9 2068.7,508.0 2069.0,508.0 2072.0,508.0 2075.0,508.0 2078.0,508.1 2081.0,508.1 2084.0,508.1 2087.0,508.1 2090.0,508.1 2093.0,508.1 2096.0,508.1 2099.0,508.1 2102.0,508.1 2105.0,508.1 2108.0,508.1 2111.0,508.1 2114.0,508.1 2117.0,508.1 2120.0,508.1 2123.0,508.1 2126.0,508.1 2129.0,508.1 2132.0,508.1 2135.0,508.1 2138.0,508.1 2141.0,508.1 2141.9,508.0 2142.9,508.0 2143.9,508.0 2144.0,508.0 2144.9,508.0 2145.4,507.9 2145.9,507.9 2146.4,507.8 2146.9,507.6 2147.0,507.5 2147.4,507.0 2147.9,505.4 2148.4,503.0 2148.8,502.0 2148.9,502.0 2149.4,504.1 2149.9,506.2 2150.0,506.5 2150.4,507.3 2150.9,507.7 2151.4,507.8 2151.9,507.9 2152.4,507.9 2152.9,508.0 2153.0,508.0 2153.4,508.0 2153.9,508.0 2154.9,508.0 2156.0,508.0 2159.0,508.0 2161.9,508.0 2162.0,508.0 2162.9,507.9 2163.9,507.9 2164.9,507.8 2165.0,507.8 2165.9,507.7 2166.9,507.5 2167.4,507.4 2167.9,507.1 2168.0,507.0 2168.4,506.6 2168.9,505.6 2169.4,502.5 2169.9,494.6 2170.4,482.3 2170.8,477.0 2170.9,477.5 2171.0,478.5 2171.4,487.8 2171.9,498.8 2172.4,504.3 2172.9,506.2 2173.4,506.9 2173.9,507.2 2174.0,507.3 2174.4,507.4 2174.9,507.6 2175.4,507.7 2175.9,507.8 2176.9,507.9 2177.0,507.9 2177.9,507.9 2178.9,508.0 2180.0,508.0 2183.0,508.0 2186.0,508.0 2189.0,508.1 2192.0,508.0 2192.5,508.0 2193.5,508.0 2194.5,508.0 2195.0,508.0 2195.5,508.0 2196.0,507.9 2196.5,507.9 2197.0,507.8 2197.5,507.6 2198.0,507.0 2198.0,507.0 2198.5,505.4 2199.0,502.6 2199.5,500.9 2199.5,500.9 2200.0,502.8 2200.5,505.6 2201.0,507.0 2201.0,507.1 2201.5,507.6 2202.0,507.8 2202.5,507.9 2203.0,507.9 2203.5,508.0 2204.0,508.0 2204.0,508.0 2204.5,508.0 2205.5,508.0 2207.0,508.1 2210.0,508.1 2213.0,508.1 2216.0,508.1 2219.0,508.1 2222.0,508.1 2225.0,508.1 2228.0,508.1 2231.0,508.1 2234.0,508.1 2237.0,508.1 2240.0,508.1 2243.0,508.1 2246.0,508.1 2249.0,508.1 2252.0,508.1 2255.0,508.1 2258.0,508.1 2258.5,508.1"/>
<polyline fill="none" stroke="#3aab73" stroke-width="3.5" stroke-linejoin="round" points="1286.0,641.3 1289.0,641.3 1292.0,641.3 1295.0,641.3 1298.0,641.3 1301.0,641.3 1304.0,641.3 1307.0,641.3 1310.0,641.3 1313.0,641.3 1316.0,641.3 1319.0,641.3 1322.0,641.3 1325.0,641.3 1328.0,641.3 1331.0,641.3 1334.0,641.3 1337.0,641.3 1340.0,641.3 1343.0,641.3 1346.0,641.3 1349.0,641.3 1352.0,641.3 1355.0,641.3 1358.0,641.3 1361.0,641.3 1364.0,641.3 1367.0,641.3 1370.0,641.3 1373.0,641.3 1376.0,641.3 1379.0,641.3 1382.0,641.3 1385.0,641.3 1388.0,641.3 1391.0,641.3 1394.0,641.3 1397.0,641.3 1400.0,641.3 1403.0,641.3 1406.0,641.3 1409.0,641.3 1412.0,641.3 1415.0,641.3 1418.0,641.3 1421.0,641.3 1424.0,641.3 1427.0,641.2 1430.0,641.2 1433.0,641.2 1436.0,641.2 1438.9,641.2 1439.0,641.2 1439.9,641.1 1440.9,641.1 1441.9,641.1 1442.0,641.1 1442.9,641.0 1443.9,641.0 1444.9,640.9 1445.0,640.9 1445.9,640.9 1446.9,640.7 1447.9,640.6 1448.0,640.5 1448.9,640.3 1449.9,639.8 1450.4,639.5 1450.9,639.0 1451.0,638.8 1451.4,638.3 1451.9,637.1 1452.4,635.1 1452.9,629.7 1453.4,613.7 1453.9,577.5 1454.0,564.2 1454.4,532.8 1454.6,524.6 1454.9,534.1 1455.4,579.3 1455.9,614.7 1456.4,630.0 1456.9,635.2 1457.0,635.9 1457.4,637.2 1457.9,638.3 1458.4,639.0 1458.9,639.5 1459.4,639.8 1459.9,640.1 1460.0,640.1 1460.9,640.4 1461.9,640.6 1462.9,640.8 1463.0,640.8 1463.9,640.9 1464.9,641.0 1465.9,641.0 1466.0,641.0 1466.9,641.0 1467.9,641.1 1468.9,641.1 1469.0,641.1 1469.9,641.1 1472.0,641.1 1475.0,641.1 1478.0,641.1 1481.0,641.1 1481.0,641.1 1482.0,641.1 1483.0,641.1 1484.0,641.0 1484.0,641.0 1485.0,641.0 1486.0,640.9 1487.0,640.8 1487.0,640.8 1488.0,640.6 1489.0,640.3 1489.5,640.0 1490.0,639.7 1490.0,639.7 1490.5,639.2 1491.0,638.5 1491.5,637.1 1492.0,633.7 1492.5,623.5 1493.0,601.5 1493.0,599.6 1493.5,568.6 1493.8,561.6 1494.0,566.8 1494.5,597.1 1495.0,622.1 1495.5,633.2 1496.0,636.9 1496.0,637.0 1496.5,638.4 1497.0,639.2 1497.5,639.7 1498.0,640.0 1498.5,640.3 1499.0,640.4 1499.0,640.5 1500.0,640.7 1501.0,640.8 1502.0,640.9 1502.0,640.9 1503.0,641.0 1504.0,641.1 1505.0,641.1 1505.0,641.1 1506.0,641.1 1508.0,641.2 1511.0,641.2 1514.0,641.2 1517.0,641.2 1520.0,641.2 1523.0,641.2 1526.0,641.2 1529.0,641.1 1529.7,641.1 1530.7,641.1 1531.7,641.1 1532.0,641.1 1532.7,641.0 1533.7,641.0 1534.7,640.9 1535.0,640.9 1535.7,640.8 1536.7,640.6 1537.7,640.3 1538.0,640.2 1538.7,639.8 1539.2,639.4 1539.7,638.7 1540.2,637.6 1540.7,635.0 1541.0,631.2 1541.2,627.2 1541.7,607.0 1542.2,574.9 1542.6,559.9 1542.7,560.7 1543.2,586.8 1543.7,616.1 1544.0,626.9 1544.2,631.0 1544.7,636.2 1545.2,638.1 1545.7,639.0 1546.2,639.6 1546.7,639.9 1547.0,640.1 1547.2,640.2 1547.7,640.4 1548.7,640.7 1549.7,640.8 1550.0,640.9 1550.7,640.9 1551.7,641.0 1552.7,641.1 1553.0,641.1 1553.7,641.1 1554.7,641.1 1556.0,641.2 1559.0,641.2 1562.0,641.2 1565.0,641.2 1568.0,641.3 1571.0,641.3 1574.0,641.3 1577.0,641.3 1580.0,641.3 1583.0,641.3 1586.0,641.3 1589.0,641.3 1592.0,641.3 1595.0,641.3 1598.0,641.3 1601.0,641.3 1604.0,641.3 1607.0,641.3 1610.0,641.3 1613.0,641.3 1616.0,641.3 1619.0,641.3 1622.0,641.3 1625.0,641.3 1628.0,641.3 1631.0,641.3 1634.0,641.3 1637.0,641.3 1640.0,641.3 1643.0,641.3 1646.0,641.3 1649.0,641.3 1652.0,641.3 1655.0,641.3 1658.0,641.3 1661.0,641.3 1664.0,641.3 1667.0,641.3 1670.0,641.3 1673.0,641.3 1676.0,641.3 1679.0,641.3 1682.0,641.3 1685.0,641.3 1688.0,641.3 1691.0,641.3 1694.0,641.3 1697.0,641.3 1700.0,641.3 1703.0,641.3 1706.0,641.3 1709.0,641.3 1712.0,641.3 1715.0,641.3 1718.0,641.3 1721.0,641.3 1724.0,641.3 1727.0,641.3 1730.0,641.3 1733.0,641.3 1736.0,641.3 1739.0,641.3 1742.0,641.3 1745.0,641.3 1748.0,641.3 1751.0,641.3 1754.0,641.2 1755.2,641.2 1756.2,641.2 1757.0,641.1 1757.2,641.1 1758.2,641.1 1759.2,640.9 1759.8,640.8 1760.0,640.8 1760.2,640.7 1760.8,640.5 1761.2,640.1 1761.8,639.0 1762.2,635.9 1762.8,628.8 1763.0,624.1 1763.2,619.9 1763.5,618.2 1763.8,619.9 1764.2,628.8 1764.8,635.9 1765.2,639.0 1765.8,640.1 1766.0,640.3 1766.2,640.5 1766.8,640.7 1767.2,640.8 1767.8,640.9 1768.2,641.0 1768.8,641.1 1769.0,641.1 1769.8,641.1 1770.8,641.2 1771.8,641.2 1772.0,641.2 1775.0,641.2 1778.0,641.3 1781.0,641.3 1784.0,641.3 1787.0,641.3 1790.0,641.3 1793.0,641.3 1796.0,641.3 1799.0,641.3 1802.0,641.3 1805.0,641.3 1808.0,641.3 1811.0,641.3 1814.0,641.3 1817.0,641.3 1820.0,641.3 1823.0,641.3 1826.0,641.3 1829.0,641.3 1832.0,641.3 1835.0,641.3 1838.0,641.3 1841.0,641.3 1844.0,641.3 1847.0,641.3 1850.0,641.3 1853.0,641.3 1856.0,641.3 1859.0,641.3 1862.0,641.3 1865.0,641.3 1868.0,641.3 1871.0,641.3 1874.0,641.3 1877.0,641.3 1880.0,641.3 1883.0,641.3 1886.0,641.3 1889.0,641.3 1892.0,641.3 1895.0,641.3 1898.0,641.3 1901.0,641.3 1904.0,641.3 1907.0,641.3 1910.0,641.3 1913.0,641.3 1916.0,641.3 1919.0,641.3 1922.0,641.3 1925.0,641.3 1928.0,641.3 1931.0,641.3 1934.0,641.3 1937.0,641.2 1940.0,641.2 1943.0,641.2 1943.6,641.2 1944.6,641.1 1945.6,641.1 1946.0,641.1 1946.6,641.1 1947.6,641.0 1948.6,640.9 1949.0,640.9 1949.6,640.8 1950.6,640.6 1951.6,640.3 1952.0,640.1 1952.1,640.0 1952.6,639.7 1953.1,639.1 1953.6,638.3 1954.1,636.7 1954.6,632.1 1955.0,621.5 1955.1,618.9 1955.6,591.8 1956.1,565.2 1956.2,563.5 1956.6,575.5 1957.1,606.4 1957.6,626.8 1958.0,634.2 1958.1,634.9 1958.6,637.6 1959.1,638.8 1959.6,639.4 1960.1,639.9 1960.6,640.2 1961.0,640.4 1961.1,640.4 1962.1,640.7 1963.1,640.8 1964.0,640.9 1964.1,640.9 1965.1,641.0 1966.1,641.1 1967.0,641.1 1967.1,641.1 1968.1,641.1 1970.0,641.2 1973.0,641.2 1976.0,641.2 1979.0,641.3 1982.0,641.3 1985.0,641.3 1988.0,641.3 1991.0,641.3 1994.0,641.3 1997.0,641.3 2000.0,641.3 2003.0,641.3 2006.0,641.3 2009.0,641.3 2012.0,641.3 2015.0,641.3 2018.0,641.3 2021.0,641.3 2024.0,641.3 2027.0,641.3 2030.0,641.3 2033.0,641.3 2036.0,641.3 2039.0,641.3 2042.0,641.3 2045.0,641.2 2048.0,641.2 2049.1,641.2 2050.1,641.1 2051.0,641.1 2051.1,641.1 2052.1,641.0 2053.1,640.9 2054.0,640.8 2054.1,640.8 2054.6,640.6 2055.1,640.5 2055.6,640.2 2056.1,639.8 2056.6,639.0 2057.0,637.5 2057.1,637.0 2057.6,631.0 2058.1,617.7 2058.6,602.1 2058.8,599.9 2059.1,604.0 2059.6,620.3 2060.0,630.8 2060.1,632.4 2060.6,637.5 2061.1,639.2 2061.6,639.9 2062.1,640.3 2062.6,640.5 2063.0,640.6 2063.1,640.7 2063.6,640.8 2064.1,640.9 2065.1,641.0 2066.0,641.1 2066.1,641.1 2067.1,641.1 2068.1,641.2 2069.0,641.2 2072.0,641.2 2075.0,641.3 2078.0,641.3 2081.0,641.3 2084.0,641.3 2087.0,641.3 2090.0,641.3 2093.0,641.3 2096.0,641.3 2099.0,641.3 2102.0,641.3 2105.0,641.3 2108.0,641.3 2111.0,641.3 2114.0,641.3 2117.0,641.3 2120.0,641.3 2123.0,641.3 2126.0,641.3 2129.0,641.3 2132.0,641.3 2135.0,641.3 2138.0,641.3 2141.0,641.2 2141.7,641.2 2142.7,641.2 2143.7,641.2 2144.0,641.2 2144.7,641.1 2145.2,641.1 2145.7,641.0 2146.2,640.9 2146.7,640.7 2147.0,640.5 2147.2,640.2 2147.7,638.6 2148.2,635.6 2148.7,633.0 2148.8,632.9 2149.2,634.6 2149.7,637.9 2150.0,639.2 2150.2,639.9 2150.7,640.6 2151.2,640.9 2151.7,641.0 2152.2,641.1 2152.7,641.1 2153.0,641.1 2153.2,641.1 2153.7,641.2 2154.7,641.2 2155.7,641.2 2156.0,641.2 2159.0,641.2 2161.0,641.2 2162.0,641.1 2163.0,641.1 2164.0,641.0 2165.0,640.9 2166.0,640.8 2167.0,640.5 2167.5,640.2 2168.0,639.8 2168.5,639.1 2169.0,637.4 2169.5,632.3 2170.0,620.0 2170.5,603.3 2170.8,598.8 2171.0,600.9 2171.5,616.7 2172.0,630.5 2172.5,636.8 2173.0,638.9 2173.5,639.7 2174.0,640.2 2174.5,640.4 2175.0,640.6 2175.5,640.8 2176.0,640.8 2177.0,641.0 2178.0,641.1 2179.0,641.1 2180.0,641.1 2183.0,641.2 2186.0,641.2 2189.0,641.2 2192.0,641.2 2192.3,641.2 2193.3,641.2 2194.3,641.2 2195.0,641.1 2195.3,641.1 2195.8,641.1 2196.3,641.0 2196.8,640.9 2197.3,640.7 2197.8,640.2 2198.0,639.8 2198.3,638.7 2198.8,635.5 2199.3,632.0 2199.5,631.6 2199.8,632.7 2200.3,636.6 2200.8,639.3 2201.0,639.8 2201.3,640.4 2201.8,640.8 2202.3,641.0 2202.8,641.0 2203.3,641.1 2203.8,641.1 2204.0,641.2 2204.3,641.2 2205.3,641.2 2206.3,641.2 2207.0,641.2 2210.0,641.3 2213.0,641.3 2216.0,641.3 2219.0,641.3 2222.0,641.3 2225.0,641.3 2228.0,641.3 2231.0,641.3 2234.0,641.3 2237.0,641.3 2240.0,641.3 2243.0,641.3 2246.0,641.3 2249.0,641.3 2252.0,641.3 2255.0,641.3 2258.0,641.3 2258.5,641.3"/>
<polyline fill="none" stroke="#1b63cc" stroke-width="3.5" stroke-linejoin="round" points="1286.0,764.9 1289.0,764.9 1292.0,764.9 1295.0,764.9 1298.0,764.9 1301.0,764.9 1304.0,764.9 1307.0,764.9 1310.0,764.9 1313.0,764.9 1316.0,764.9 1319.0,764.9 1322.0,764.9 1325.0,764.9 1328.0,764.9 1331.0,764.9 1334.0,764.9 1337.0,764.9 1340.0,764.9 1343.0,764.9 1346.0,764.9 1349.0,764.9 1352.0,764.9 1355.0,764.9 1358.0,764.9 1361.0,764.9 1364.0,764.9 1367.0,764.9 1370.0,764.9 1373.0,764.9 1376.0,764.9 1379.0,764.9 1382.0,764.9 1385.0,764.9 1388.0,764.9 1391.0,764.9 1394.0,764.9 1397.0,764.9 1400.0,764.9 1403.0,764.9 1406.0,764.9 1409.0,764.9 1412.0,764.9 1415.0,764.9 1418.0,764.9 1421.0,764.9 1424.0,764.9 1427.0,764.9 1430.0,764.8 1433.0,764.8 1436.0,764.8 1439.0,764.8 1439.6,764.8 1440.6,764.7 1441.6,764.7 1442.0,764.7 1442.6,764.7 1443.6,764.6 1444.6,764.6 1445.0,764.6 1445.6,764.5 1446.6,764.4 1447.6,764.3 1448.0,764.2 1448.6,764.0 1449.6,763.7 1450.6,763.0 1451.0,762.6 1451.1,762.5 1451.6,761.7 1452.1,760.4 1452.6,757.7 1453.1,749.8 1453.6,727.8 1454.0,693.6 1454.1,687.3 1454.6,657.1 1454.6,657.0 1455.1,682.0 1455.6,723.8 1456.1,748.1 1456.6,757.1 1457.0,759.9 1457.1,760.2 1457.6,761.6 1458.1,762.4 1458.6,763.0 1459.1,763.4 1459.6,763.7 1460.0,763.8 1460.6,764.0 1461.6,764.2 1462.6,764.4 1463.0,764.4 1463.6,764.5 1464.6,764.6 1465.6,764.6 1466.0,764.6 1466.6,764.7 1467.6,764.7 1468.6,764.7 1469.0,764.7 1469.6,764.7 1472.0,764.7 1475.0,764.8 1478.0,764.7 1481.0,764.7 1481.2,764.7 1482.2,764.7 1483.2,764.7 1484.0,764.6 1484.2,764.6 1485.2,764.6 1486.2,764.5 1487.0,764.4 1487.2,764.4 1488.2,764.2 1489.2,763.8 1489.7,763.6 1490.0,763.4 1490.2,763.2 1490.7,762.7 1491.2,761.9 1491.7,760.2 1492.2,755.5 1492.7,742.1 1493.0,726.0 1493.2,714.8 1493.7,688.6 1493.8,687.1 1494.2,699.8 1494.7,730.6 1495.2,750.6 1495.7,758.6 1496.0,760.6 1496.2,761.2 1496.7,762.4 1497.2,763.0 1497.7,763.4 1498.2,763.7 1498.7,764.0 1499.0,764.1 1499.7,764.2 1500.7,764.4 1501.7,764.5 1502.0,764.5 1502.7,764.6 1503.7,764.6 1504.7,764.7 1505.0,764.7 1505.7,764.7 1508.0,764.8 1511.0,764.8 1514.0,764.8 1517.0,764.8 1520.0,764.8 1523.0,764.8 1526.0,764.8 1529.0,764.8 1530.4,764.7 1531.4,764.7 1532.0,764.7 1532.4,764.7 1533.4,764.6 1534.4,764.6 1535.0,764.5 1535.4,764.5 1536.4,764.3 1537.4,764.1 1538.0,763.9 1538.4,763.7 1538.9,763.4 1539.4,763.0 1539.9,762.2 1540.4,760.8 1540.9,757.1 1541.0,755.9 1541.4,746.1 1541.9,722.4 1542.4,695.7 1542.6,692.5 1542.9,700.7 1543.4,729.2 1543.9,749.8 1544.0,752.1 1544.4,758.4 1544.9,761.3 1545.4,762.4 1545.9,763.1 1546.4,763.5 1546.9,763.8 1547.0,763.8 1547.4,764.0 1548.4,764.3 1549.4,764.4 1550.0,764.5 1550.4,764.6 1551.4,764.6 1552.4,764.7 1553.0,764.7 1553.4,764.7 1554.4,764.7 1556.0,764.8 1559.0,764.8 1562.0,764.8 1565.0,764.9 1568.0,764.9 1571.0,764.9 1574.0,764.9 1577.0,764.9 1580.0,764.9 1583.0,764.9 1586.0,764.9 1589.0,764.9 1592.0,764.9 1595.0,764.9 1598.0,764.9 1601.0,764.9 1604.0,764.9 1607.0,764.9 1610.0,764.9 1613.0,764.9 1616.0,764.9 1619.0,764.9 1622.0,764.9 1625.0,764.9 1628.0,764.9 1631.0,764.9 1634.0,764.9 1637.0,764.9 1640.0,764.9 1643.0,764.9 1646.0,764.9 1649.0,764.9 1652.0,764.9 1655.0,764.9 1658.0,764.9 1661.0,764.9 1664.0,764.9 1667.0,764.9 1670.0,764.9 1673.0,764.9 1676.0,764.9 1679.0,764.9 1682.0,764.9 1685.0,764.9 1688.0,764.9 1691.0,764.9 1694.0,764.9 1697.0,764.9 1700.0,764.9 1703.0,764.9 1706.0,764.9 1709.0,764.9 1712.0,764.9 1715.0,764.9 1718.0,764.9 1721.0,764.9 1724.0,764.9 1727.0,764.9 1730.0,764.9 1733.0,764.9 1736.0,764.9 1739.0,764.9 1742.0,764.9 1745.0,764.9 1748.0,764.9 1751.0,764.9 1754.0,764.8 1755.4,764.8 1756.4,764.8 1757.0,764.8 1757.4,764.7 1758.4,764.7 1759.4,764.5 1759.9,764.4 1760.0,764.4 1760.4,764.3 1760.9,764.1 1761.4,763.6 1761.9,762.3 1762.4,758.4 1762.9,750.9 1763.0,749.1 1763.4,743.9 1763.5,743.7 1763.9,747.4 1764.4,755.8 1764.9,761.1 1765.4,763.2 1765.9,763.9 1766.0,764.0 1766.4,764.2 1766.9,764.4 1767.4,764.5 1767.9,764.6 1768.4,764.7 1769.0,764.7 1769.4,764.7 1770.4,764.8 1771.4,764.8 1772.0,764.8 1775.0,764.9 1778.0,764.9 1781.0,764.9 1784.0,764.9 1787.0,764.9 1790.0,764.9 1793.0,764.9 1796.0,764.9 1799.0,764.9 1802.0,764.9 1805.0,764.9 1808.0,764.9 1811.0,764.9 1814.0,764.9 1817.0,764.9 1820.0,764.9 1823.0,764.9 1826.0,764.9 1829.0,764.9 1832.0,764.9 1835.0,764.9 1838.0,764.9 1841.0,764.9 1844.0,764.9 1847.0,764.9 1850.0,764.9 1853.0,764.9 1856.0,764.9 1859.0,764.9 1862.0,764.9 1865.0,764.9 1868.0,764.9 1871.0,764.9 1874.0,764.9 1877.0,764.9 1880.0,764.9 1883.0,764.9 1886.0,764.9 1889.0,764.9 1892.0,764.9 1895.0,764.9 1898.0,764.9 1901.0,764.9 1904.0,764.9 1907.0,764.9 1910.0,764.9 1913.0,764.9 1916.0,764.9 1919.0,764.9 1922.0,764.9 1925.0,764.9 1928.0,764.9 1931.0,764.9 1934.0,764.9 1937.0,764.8 1940.0,764.8 1943.0,764.8 1943.3,764.8 1944.3,764.7 1945.3,764.7 1946.0,764.7 1946.3,764.7 1947.3,764.6 1948.3,764.5 1949.0,764.5 1949.3,764.4 1950.3,764.2 1951.3,764.0 1952.0,763.6 1952.3,763.4 1952.8,763.0 1953.3,762.3 1953.8,761.2 1954.3,758.6 1954.8,750.8 1955.0,744.2 1955.3,730.7 1955.8,698.6 1956.2,683.6 1956.3,684.4 1956.8,710.5 1957.3,739.7 1957.8,754.6 1958.0,757.5 1958.3,759.8 1958.8,761.7 1959.3,762.6 1959.8,763.2 1960.3,763.5 1960.8,763.8 1961.0,763.9 1961.3,764.0 1962.3,764.3 1963.3,764.4 1964.0,764.5 1964.3,764.5 1965.3,764.6 1966.3,764.7 1967.0,764.7 1967.3,764.7 1968.3,764.7 1970.0,764.8 1973.0,764.8 1976.0,764.8 1979.0,764.9 1982.0,764.9 1985.0,764.9 1988.0,764.9 1991.0,764.9 1994.0,764.9 1997.0,764.9 2000.0,764.9 2003.0,764.9 2006.0,764.9 2009.0,764.9 2012.0,764.9 2015.0,764.9 2018.0,764.9 2021.0,764.9 2024.0,764.9 2027.0,764.9 2030.0,764.9 2033.0,764.9 2036.0,764.9 2039.0,764.9 2042.0,764.9 2045.0,764.8 2048.0,764.8 2049.4,764.8 2050.4,764.7 2051.0,764.7 2051.4,764.7 2052.4,764.6 2053.4,764.5 2054.0,764.4 2054.4,764.4 2054.9,764.2 2055.4,764.0 2055.9,763.7 2056.4,763.1 2056.9,761.8 2057.0,761.5 2057.4,758.0 2057.9,748.2 2058.4,733.5 2058.8,727.8 2058.9,728.6 2059.4,741.3 2059.9,754.2 2060.0,755.5 2060.4,760.5 2060.9,762.7 2061.4,763.5 2061.9,763.9 2062.4,764.1 2062.9,764.3 2063.0,764.3 2063.4,764.4 2063.9,764.5 2064.9,764.6 2065.9,764.7 2066.0,764.7 2066.9,764.7 2067.9,764.8 2069.0,764.8 2072.0,764.8 2075.0,764.9 2078.0,764.9 2081.0,764.9 2084.0,764.9 2087.0,764.9 2090.0,764.9 2093.0,764.9 2096.0,764.9 2099.0,764.9 2102.0,764.9 2105.0,764.9 2108.0,764.9 2111.0,764.9 2114.0,764.9 2117.0,764.9 2120.0,764.9 2123.0,764.9 2126.0,764.9 2129.0,764.9 2132.0,764.9 2135.0,764.9 2138.0,764.9 2141.0,764.8 2141.6,764.8 2142.6,764.8 2143.6,764.8 2144.0,764.8 2144.6,764.7 2145.1,764.7 2145.6,764.6 2146.1,764.5 2146.6,764.3 2147.0,764.0 2147.1,763.8 2147.6,762.3 2148.1,759.1 2148.6,755.7 2148.8,755.3 2149.1,756.6 2149.6,760.4 2150.0,762.4 2150.1,763.0 2150.6,764.1 2151.1,764.4 2151.6,764.5 2152.1,764.6 2152.6,764.7 2153.0,764.7 2153.1,764.7 2153.6,764.7 2154.6,764.8 2155.6,764.8 2156.0,764.8 2159.0,764.8 2160.9,764.7 2161.9,764.7 2162.0,764.7 2162.9,764.7 2163.9,764.6 2164.9,764.5 2165.0,764.5 2165.9,764.4 2166.9,764.1 2167.4,763.9 2167.9,763.5 2168.0,763.4 2168.4,762.9 2168.9,761.5 2169.4,757.5 2169.9,746.9 2170.4,729.6 2170.8,720.8 2170.9,721.0 2171.0,723.0 2171.4,734.6 2171.9,750.7 2172.4,759.1 2172.9,762.1 2173.4,763.1 2173.9,763.6 2174.0,763.7 2174.4,763.9 2174.9,764.2 2175.4,764.3 2175.9,764.4 2176.9,764.6 2177.0,764.6 2177.9,764.6 2178.9,764.7 2179.9,764.7 2180.0,764.7 2183.0,764.8 2186.0,764.8 2189.0,764.8 2192.0,764.8 2192.4,764.8 2193.4,764.8 2194.4,764.8 2195.0,764.8 2195.4,764.7 2195.9,764.7 2196.4,764.6 2196.9,764.5 2197.4,764.3 2197.9,763.8 2198.0,763.6 2198.4,762.2 2198.9,759.1 2199.4,756.1 2199.5,756.0 2199.9,757.5 2200.4,761.0 2200.9,763.3 2201.0,763.6 2201.4,764.2 2201.9,764.5 2202.4,764.6 2202.9,764.7 2203.4,764.7 2203.9,764.8 2204.0,764.8 2204.4,764.8 2205.4,764.8 2206.4,764.8 2207.0,764.8 2210.0,764.9 2213.0,764.9 2216.0,764.9 2219.0,764.9 2222.0,764.9 2225.0,764.9 2228.0,764.9 2231.0,764.9 2234.0,764.9 2237.0,764.9 2240.0,764.9 2243.0,764.9 2246.0,764.9 2249.0,764.9 2252.0,764.9 2255.0,764.9 2258.0,764.9 2258.5,764.9"/>
<polyline fill="none" stroke="#ec2a2e" stroke-width="3.5" stroke-linejoin="round" points="1286.0,863.1 1289.0,863.1 1292.0,863.1 1295.0,863.1 1298.0,863.1 1301.0,863.1 1304.0,863.1 1307.0,863.1 1310.0,863.1 1313.0,863.1 1316.0,863.1 1319.0,863.1 1322.0,863.1 1325.0,863.1 1328.0,863.1 1331.0,863.1 1334.0,863.1 1337.0,863.1 1340.0,863.1 1343.0,863.1 1346.0,863.1 1349.0,863.1 1352.0,863.1 1355.0,863.1 1358.0,863.1 1361.0,863.1 1364.0,863.1 1367.0,863.1 1370.0,863.1 1373.0,863.1 1376.0,863.1 1379.0,863.1 1382.0,863.1 1385.0,863.1 1388.0,863.1 1391.0,863.1 1394.0,863.1 1397.0,863.1 1400.0,863.1 1403.0,863.1 1406.0,863.1 1409.0,863.1 1412.0,863.1 1415.0,863.1 1418.0,863.1 1421.0,863.1 1424.0,863.1 1427.0,863.1 1430.0,863.1 1433.0,863.0 1436.0,863.0 1439.0,863.0 1441.7,863.0 1442.0,862.9 1442.7,862.9 1443.7,862.9 1444.7,862.9 1445.0,862.8 1445.7,862.8 1446.7,862.7 1447.7,862.6 1448.0,862.6 1448.7,862.4 1449.7,862.1 1450.7,861.6 1451.0,861.4 1451.2,861.2 1451.7,860.5 1452.2,859.4 1452.7,857.0 1453.2,849.7 1453.7,830.4 1454.0,809.1 1454.2,798.4 1454.6,781.4 1454.7,781.7 1455.2,806.4 1455.7,836.4 1456.2,852.2 1456.7,857.8 1457.0,859.3 1457.2,859.8 1457.7,860.7 1458.2,861.3 1458.7,861.7 1459.2,862.0 1459.7,862.2 1460.0,862.3 1460.7,862.5 1461.7,862.6 1462.7,862.7 1463.0,862.7 1463.7,862.8 1464.7,862.8 1465.7,862.9 1466.0,862.9 1466.7,862.9 1469.0,863.0 1472.0,863.0 1475.0,863.0 1478.0,863.0 1481.0,863.0 1482.6,862.9 1483.6,862.9 1484.0,862.9 1484.6,862.9 1485.6,862.8 1486.6,862.7 1487.0,862.7 1487.6,862.6 1488.6,862.5 1489.6,862.1 1490.0,861.9 1490.1,861.9 1490.6,861.5 1491.1,860.9 1491.6,859.9 1492.1,857.1 1492.6,848.8 1493.0,832.8 1493.1,830.0 1493.6,806.8 1493.8,802.6 1494.1,807.5 1494.6,831.0 1495.1,849.3 1495.6,857.3 1496.0,859.7 1496.1,859.9 1496.6,861.0 1497.1,861.5 1497.6,861.9 1498.1,862.2 1498.6,862.3 1499.0,862.4 1499.1,862.5 1500.1,862.6 1501.1,862.8 1502.0,862.8 1502.1,862.8 1503.1,862.9 1504.1,862.9 1505.0,862.9 1508.0,863.0 1511.0,863.0 1514.0,863.0 1517.0,863.0 1520.0,863.0 1523.0,863.0 1526.0,863.0 1529.0,863.0 1531.9,862.9 1532.0,862.9 1532.9,862.9 1533.9,862.9 1534.9,862.8 1535.0,862.8 1535.9,862.7 1536.9,862.6 1537.9,862.4 1538.0,862.4 1538.4,862.2 1538.9,862.0 1539.4,861.7 1539.9,861.2 1540.4,860.2 1540.9,857.7 1541.0,856.3 1541.4,850.3 1541.9,833.5 1542.4,812.7 1542.6,808.9 1542.9,813.3 1543.4,834.3 1543.9,850.7 1544.0,853.5 1544.4,857.9 1544.9,860.3 1545.4,861.2 1545.9,861.7 1546.4,862.0 1546.9,862.3 1547.0,862.3 1547.4,862.4 1547.9,862.5 1548.9,862.7 1549.9,862.8 1550.0,862.8 1550.9,862.9 1551.9,862.9 1552.9,862.9 1553.0,862.9 1556.0,863.0 1559.0,863.0 1562.0,863.1 1565.0,863.1 1568.0,863.1 1571.0,863.1 1574.0,863.1 1577.0,863.1 1580.0,863.1 1583.0,863.1 1586.0,863.1 1589.0,863.1 1592.0,863.1 1595.0,863.1 1598.0,863.1 1601.0,863.1 1604.0,863.1 1607.0,863.1 1610.0,863.1 1613.0,863.1 1616.0,863.1 1619.0,863.1 1622.0,863.1 1625.0,863.1 1628.0,863.1 1631.0,863.1 1634.0,863.1 1637.0,863.1 1640.0,863.1 1643.0,863.1 1646.0,863.1 1649.0,863.1 1652.0,863.1 1655.0,863.1 1658.0,863.1 1661.0,863.1 1664.0,863.1 1667.0,863.1 1670.0,863.1 1673.0,863.1 1676.0,863.1 1679.0,863.1 1682.0,863.1 1685.0,863.1 1688.0,863.1 1691.0,863.1 1694.0,863.1 1697.0,863.1 1700.0,863.1 1703.0,863.1 1706.0,863.1 1709.0,863.1 1712.0,863.1 1715.0,863.1 1718.0,863.1 1721.0,863.1 1724.0,863.1 1727.0,863.1 1730.0,863.1 1733.0,863.1 1736.0,863.1 1739.0,863.1 1742.0,863.1 1745.0,863.1 1748.0,863.1 1751.0,863.1 1754.0,863.0 1755.8,863.0 1756.8,863.0 1757.0,863.0 1757.8,863.0 1758.8,862.9 1759.3,862.8 1759.8,862.8 1760.0,862.7 1760.3,862.7 1760.8,862.5 1761.3,862.2 1761.8,861.4 1762.3,859.0 1762.8,853.8 1763.0,850.8 1763.3,847.6 1763.5,846.6 1763.8,848.1 1764.3,854.6 1764.8,859.5 1765.3,861.6 1765.8,862.3 1766.0,862.4 1766.3,862.5 1766.8,862.7 1767.3,862.8 1767.8,862.8 1768.3,862.9 1768.8,862.9 1769.0,862.9 1769.8,863.0 1770.8,863.0 1772.0,863.0 1775.0,863.1 1778.0,863.1 1781.0,863.1 1784.0,863.1 1787.0,863.1 1790.0,863.1 1793.0,863.1 1796.0,863.1 1799.0,863.1 1802.0,863.1 1805.0,863.1 1808.0,863.1 1811.0,863.1 1814.0,863.1 1817.0,863.1 1820.0,863.1 1823.0,863.1 1826.0,863.1 1829.0,863.1 1832.0,863.1 1835.0,863.1 1838.0,863.1 1841.0,863.1 1844.0,863.1 1847.0,863.1 1850.0,863.1 1853.0,863.1 1856.0,863.1 1859.0,863.1 1862.0,863.1 1865.0,863.1 1868.0,863.1 1871.0,863.1 1874.0,863.1 1877.0,863.1 1880.0,863.1 1883.0,863.1 1886.0,863.1 1889.0,863.1 1892.0,863.1 1895.0,863.1 1898.0,863.1 1901.0,863.1 1904.0,863.1 1907.0,863.1 1910.0,863.1 1913.0,863.1 1916.0,863.1 1919.0,863.1 1922.0,863.1 1925.0,863.1 1928.0,863.1 1931.0,863.1 1934.0,863.1 1937.0,863.0 1940.0,863.0 1943.0,863.0 1944.0,863.0 1945.0,862.9 1946.0,862.9 1946.0,862.9 1947.0,862.9 1948.0,862.8 1949.0,862.7 1949.0,862.7 1950.0,862.6 1951.0,862.3 1952.0,862.0 1952.0,861.9 1952.5,861.6 1953.0,861.1 1953.5,860.4 1954.0,858.9 1954.5,854.9 1955.0,844.8 1955.0,843.1 1955.5,818.6 1956.0,793.3 1956.2,791.3 1956.5,801.4 1957.0,829.9 1957.5,849.2 1958.0,856.6 1958.0,857.0 1958.5,859.6 1959.0,860.7 1959.5,861.4 1960.0,861.8 1960.5,862.0 1961.0,862.2 1961.0,862.2 1962.0,862.5 1963.0,862.7 1964.0,862.8 1964.0,862.8 1965.0,862.8 1966.0,862.9 1967.0,862.9 1967.0,862.9 1968.0,863.0 1970.0,863.0 1973.0,863.0 1976.0,863.0 1979.0,863.1 1982.0,863.1 1985.0,863.1 1988.0,863.1 1991.0,863.1 1994.0,863.1 1997.0,863.1 2000.0,863.1 2003.0,863.1 2006.0,863.1 2009.0,863.1 2012.0,863.1 2015.0,863.1 2018.0,863.1 2021.0,863.1 2024.0,863.1 2027.0,863.1 2030.0,863.1 2033.0,863.1 2036.0,863.1 2039.0,863.1 2042.0,863.1 2045.0,863.1 2048.0,863.0 2050.0,863.0 2051.0,863.0 2051.0,863.0 2052.0,862.9 2053.0,862.8 2054.0,862.7 2054.0,862.7 2054.5,862.6 2055.0,862.5 2055.5,862.3 2056.0,862.1 2056.5,861.6 2057.0,860.4 2057.0,860.4 2057.5,856.7 2058.0,848.0 2058.5,836.3 2058.8,833.3 2059.0,834.9 2059.5,846.1 2060.0,855.5 2060.0,855.7 2060.5,860.0 2061.0,861.5 2061.5,862.0 2062.0,862.3 2062.5,862.5 2063.0,862.6 2063.0,862.6 2063.5,862.7 2064.0,862.8 2065.0,862.9 2066.0,862.9 2066.0,862.9 2067.0,863.0 2069.0,863.0 2072.0,863.0 2075.0,863.1 2078.0,863.1 2081.0,863.1 2084.0,863.1 2087.0,863.1 2090.0,863.1 2093.0,863.1 2096.0,863.1 2099.0,863.1 2102.0,863.1 2105.0,863.1 2108.0,863.1 2111.0,863.1 2114.0,863.1 2117.0,863.1 2120.0,863.1 2123.0,863.1 2126.0,863.1 2129.0,863.1 2132.0,863.1 2135.0,863.1 2138.0,863.1 2141.0,863.0 2141.8,863.0 2142.8,863.0 2143.8,863.0 2144.0,863.0 2144.8,862.9 2145.3,862.9 2145.8,862.9 2146.3,862.8 2146.8,862.6 2147.0,862.4 2147.3,862.0 2147.8,860.4 2148.3,857.5 2148.8,855.5 2149.3,857.5 2149.8,860.3 2150.0,861.2 2150.3,862.0 2150.8,862.5 2151.3,862.7 2151.8,862.8 2152.3,862.9 2152.8,862.9 2153.0,862.9 2153.3,863.0 2153.8,863.0 2154.8,863.0 2155.8,863.0 2156.0,863.0 2159.0,863.0 2161.0,863.0 2162.0,862.9 2162.0,862.9 2163.0,862.9 2164.0,862.8 2165.0,862.7 2165.0,862.7 2166.0,862.6 2167.0,862.3 2167.5,862.0 2168.0,861.7 2168.0,861.6 2168.5,861.0 2169.0,859.4 2169.5,854.5 2170.0,842.6 2170.5,825.6 2170.8,820.2 2171.0,821.7 2171.0,822.3 2171.5,837.2 2172.0,851.6 2172.5,858.3 2173.0,860.6 2173.5,861.5 2174.0,861.9 2174.0,862.0 2174.5,862.2 2175.0,862.4 2175.5,862.5 2176.0,862.6 2177.0,862.8 2177.0,862.8 2178.0,862.9 2179.0,862.9 2180.0,862.9 2180.0,862.9 2183.0,863.0 2186.0,863.0 2189.0,863.0 2192.0,863.0 2192.5,863.0 2193.5,863.0 2194.5,863.0 2195.0,863.0 2195.5,862.9 2196.0,862.9 2196.5,862.9 2197.0,862.8 2197.5,862.6 2198.0,862.0 2198.5,860.4 2199.0,857.5 2199.5,855.6 2200.0,857.5 2200.5,860.4 2201.0,862.0 2201.5,862.6 2202.0,862.8 2202.5,862.9 2203.0,862.9 2203.5,863.0 2204.0,863.0 2204.5,863.0 2205.5,863.0 2206.5,863.0 2207.0,863.1 2210.0,863.1 2213.0,863.1 2216.0,863.1 2219.0,863.1 2222.0,863.1 2225.0,863.1 2228.0,863.1 2231.0,863.1 2234.0,863.1 2237.0,863.1 2240.0,863.1 2243.0,863.1 2246.0,863.1 2249.0,863.1 2252.0,863.1 2255.0,863.1 2258.0,863.1 2258.5,863.1"/>
<path d="M1285.0,84.0 L2259.5,84.0 L2259.6,880.0 L1285.0,880.0 Z" fill="none" stroke="#000" stroke-width="4.8"/>
<line x1="1285.00" y1="880.00" x2="1285.00" y2="895.50" stroke="#000" stroke-width="4.8" stroke-linecap="butt"/>
<line x1="1528.50" y1="880.00" x2="1528.50" y2="895.50" stroke="#000" stroke-width="4.8" stroke-linecap="butt"/>
<line x1="1772.00" y1="880.00" x2="1772.00" y2="895.50" stroke="#000" stroke-width="4.8" stroke-linecap="butt"/>
<line x1="2015.50" y1="880.00" x2="2015.50" y2="895.50" stroke="#000" stroke-width="4.8" stroke-linecap="butt"/>
<line x1="2259.00" y1="880.00" x2="2259.00" y2="895.50" stroke="#000" stroke-width="4.8" stroke-linecap="butt"/>
<text x="1155.09" y="97.50" font-size="94.00" font-family="'Liberation Serif', 'Times New Roman', serif" font-weight="bold" fill="#000" textLength="119.85" lengthAdjust="spacingAndGlyphs">(b)</text>
<text x="1651.06" y="217.20" font-size="62.25" font-family="'Liberation Serif', 'Noto Serif CJK SC', serif" font-weight="600" fill="#000" textLength="57.83" lengthAdjust="spacingAndGlyphs">Ⅵ</text>
<text x="1648.49" y="369.00" font-size="60.91" font-family="'Liberation Serif', 'Noto Serif CJK SC', serif" font-weight="600" fill="#000" textLength="64.21" lengthAdjust="spacingAndGlyphs">Ⅴ</text>
<text x="1653.76" y="498.80" font-size="62.78" font-family="'Liberation Serif', 'Noto Serif CJK SC', serif" font-weight="600" fill="#000" textLength="52.79" lengthAdjust="spacingAndGlyphs">Ⅳ</text>
<text x="1647.96" y="622.60" font-size="62.38" font-family="'Liberation Serif', 'Noto Serif CJK SC', serif" font-weight="600" fill="#000" textLength="64.78" lengthAdjust="spacingAndGlyphs">Ⅲ</text>
<text x="1650.53" y="733.60" font-size="61.98" font-family="'Liberation Serif', 'Noto Serif CJK SC', serif" font-weight="600" fill="#000" textLength="59.65" lengthAdjust="spacingAndGlyphs">Ⅱ</text>
<text x="1652.74" y="843.20" font-size="61.98" font-family="'Liberation Serif', 'Noto Serif CJK SC', serif" font-weight="600" fill="#000" textLength="55.11" lengthAdjust="spacingAndGlyphs">Ⅰ</text>
<text x="1985.05" y="152.50" font-size="50.00" font-family="'Liberation Serif', 'Times New Roman', serif" font-weight="bold" fill="#000" textLength="236.13" lengthAdjust="spacingAndGlyphs">6 at.% Mn</text>
<text x="1984.74" y="315.30" font-size="50.00" font-family="'Liberation Serif', 'Times New Roman', serif" font-weight="bold" fill="#000" textLength="236.44" lengthAdjust="spacingAndGlyphs">5 at.% Mn</text>
<text x="1986.08" y="454.70" font-size="50.00" font-family="'Liberation Serif', 'Times New Roman', serif" font-weight="bold" fill="#000" textLength="235.09" lengthAdjust="spacingAndGlyphs">4 at.% Mn</text>
<text x="1984.84" y="565.50" font-size="50.00" font-family="'Liberation Serif', 'Times New Roman', serif" font-weight="bold" fill="#000" textLength="236.33" lengthAdjust="spacingAndGlyphs">3 at.% Mn</text>
<text x="1984.63" y="687.50" font-size="50.00" font-family="'Liberation Serif', 'Times New Roman', serif" font-weight="bold" fill="#000" textLength="236.54" lengthAdjust="spacingAndGlyphs">2 at.% Mn</text>
<text x="1982.64" y="809.50" font-size="50.00" font-family="'Liberation Serif', 'Times New Roman', serif" font-weight="bold" fill="#000" textLength="238.55" lengthAdjust="spacingAndGlyphs">1 at.% Mn</text>
<text x="1260.77" y="947.00" font-size="52.40" font-family="'Liberation Serif', 'Times New Roman', serif" font-weight="bold" fill="#000" textLength="48.26" lengthAdjust="spacingAndGlyphs">20</text>
<text x="1504.47" y="947.00" font-size="52.40" font-family="'Liberation Serif', 'Times New Roman', serif" font-weight="bold" fill="#000" textLength="48.05" lengthAdjust="spacingAndGlyphs">30</text>
<text x="1749.14" y="947.00" font-size="52.40" font-family="'Liberation Serif', 'Times New Roman', serif" font-weight="bold" fill="#000" textLength="46.84" lengthAdjust="spacingAndGlyphs">40</text>
<text x="1991.37" y="947.00" font-size="52.40" font-family="'Liberation Serif', 'Times New Roman', serif" font-weight="bold" fill="#000" textLength="48.16" lengthAdjust="spacingAndGlyphs">50</text>
<text x="2235.17" y="947.00" font-size="52.40" font-family="'Liberation Serif', 'Times New Roman', serif" font-weight="bold" fill="#000" textLength="47.84" lengthAdjust="spacingAndGlyphs">60</text>
<text x="1606.64" y="1019.60" font-size="50.00" font-family="'Liberation Serif', 'Times New Roman', serif" font-weight="bold" fill="#000" textLength="337.09" lengthAdjust="spacingAndGlyphs">2-Theta (Degree)</text>
<text x="1229.76" y="643.00" font-size="52.50" font-family="'Liberation Serif', 'Times New Roman', serif" font-weight="bold" fill="#000" textLength="193.57" lengthAdjust="spacingAndGlyphs" transform="rotate(-90 1231.50 643.00)">Intensity</text>
<text x="1229.24" y="432.50" font-size="52.50" font-family="'Liberation Serif', 'Times New Roman', serif" font-weight="bold" fill="#000" textLength="114.23" lengthAdjust="spacingAndGlyphs" transform="rotate(-90 1231.50 432.50)">(a.u.)</text>
</svg>
</body></html>
